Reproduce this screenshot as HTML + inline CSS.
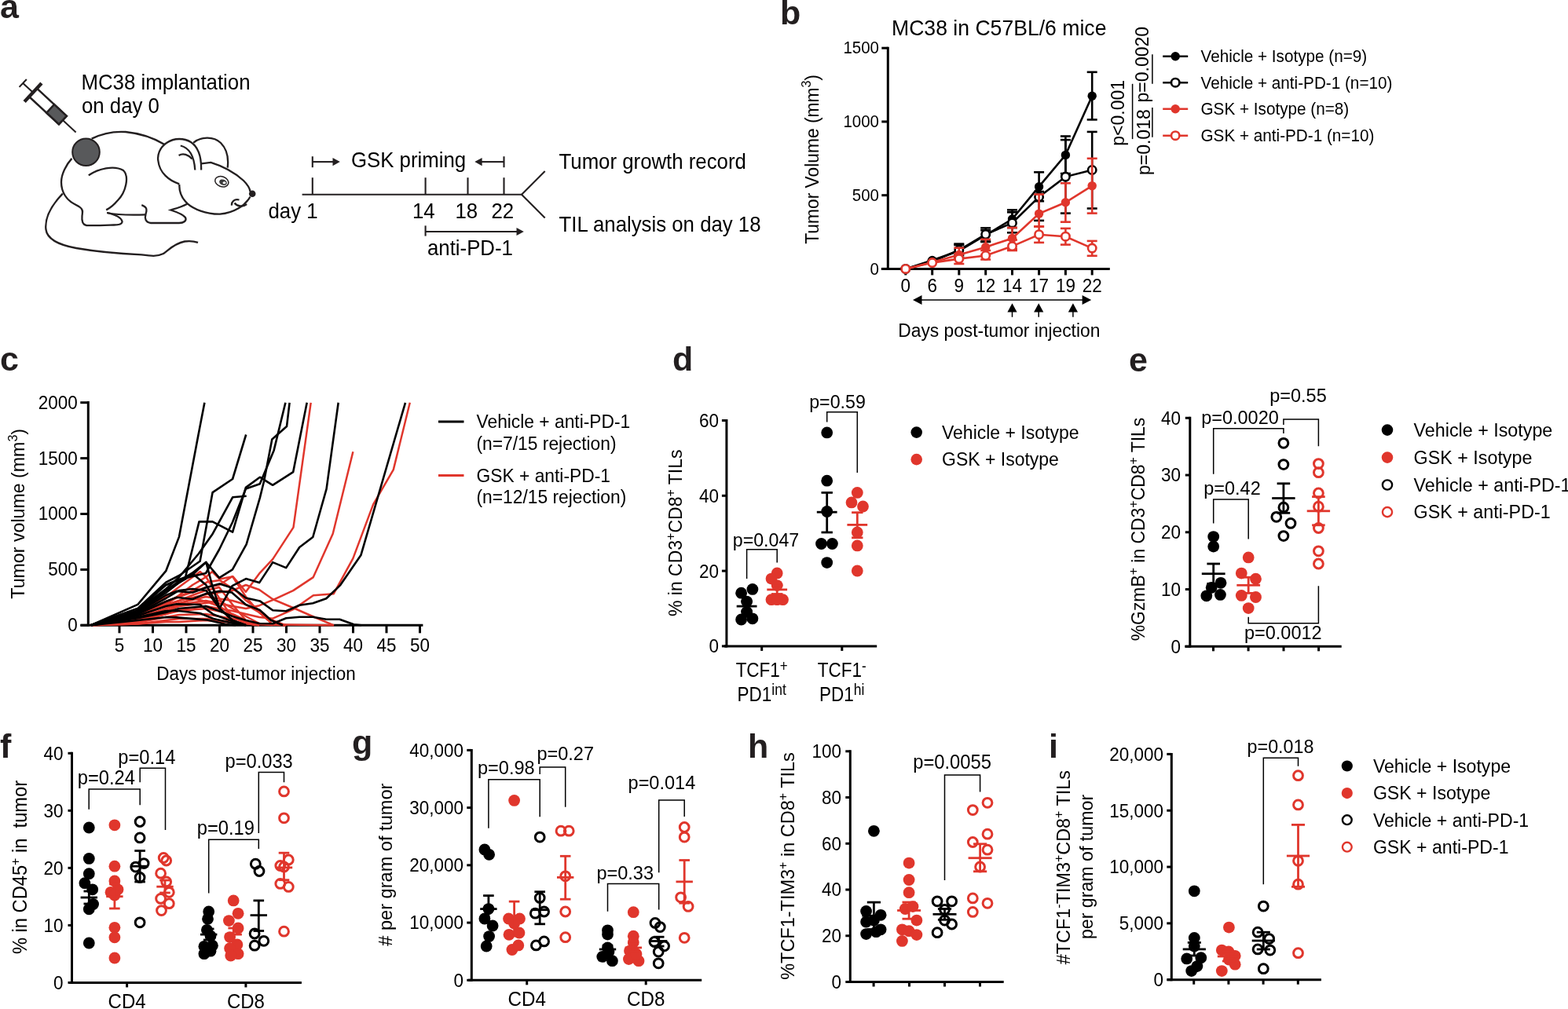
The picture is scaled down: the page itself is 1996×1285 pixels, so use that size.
<!DOCTYPE html>
<html><head><meta charset="utf-8"><title>Figure</title>
<style>
html,body{margin:0;padding:0;background:#fff;overflow:hidden;}
svg{display:block;}
text{font-family:"Liberation Sans", Arial, Helvetica, sans-serif;}
</style></head>
<body>
<svg width="1996" height="1285" viewBox="0 0 1996 1285">
<rect width="1996" height="1285" fill="#fff"/>
<text x="0" y="23.3" font-size="43" text-anchor="start" font-weight="bold" fill="#231f20">a</text>
<text x="993" y="30.8" font-size="43" text-anchor="start" font-weight="bold" fill="#231f20">b</text>
<text x="0" y="471.5" font-size="43" text-anchor="start" font-weight="bold" fill="#231f20">c</text>
<text x="856" y="471.5" font-size="43" text-anchor="start" font-weight="bold" fill="#231f20">d</text>
<text x="1437" y="472.5" font-size="43" text-anchor="start" font-weight="bold" fill="#231f20">e</text>
<text x="0" y="964.5" font-size="43" text-anchor="start" font-weight="bold" fill="#231f20">f</text>
<text x="448" y="959.5" font-size="43" text-anchor="start" font-weight="bold" fill="#231f20">g</text>
<text x="952" y="965.4" font-size="43" text-anchor="start" font-weight="bold" fill="#231f20">h</text>
<text x="1335" y="964.5" font-size="43" text-anchor="start" font-weight="bold" fill="#231f20">i</text>
<g transform="translate(29.2,105.9) rotate(42.9)" stroke="#231f20" fill="none">
<line x1="0" y1="-6.8" x2="0" y2="6.8" stroke-width="2.1"/>
<line x1="0" y1="0" x2="17.5" y2="0" stroke-width="2.1"/>
<rect x="17.5" y="-7.2" width="51.7" height="14.4" fill="#fff" stroke-width="2.5"/>
<rect x="47.7" y="-7.2" width="21.5" height="14.4" fill="#58595b" stroke-width="2.5"/>
<line x1="17.5" y1="-16" x2="17.5" y2="16" stroke-width="4.4"/>
<line x1="69.2" y1="0" x2="92" y2="0" stroke-width="2.0"/>
</g>
<path d="M116.7,176.6 C130,170 145,167 160,168 C180,170 198,177 209.9,184.3" fill="none" stroke="#231f20" stroke-width="2.3"/>
<path d="M256.1,216.5 C256.5,200 252,187 243,181 C235,176 222,175 212,182 C203,188 200,198 201.4,205 C203,220 215,230 228.3,234.3" fill="none" stroke="#231f20" stroke-width="2.3"/>
<path d="M229.8,185.5 C240,188 247,196 248.3,216.5" fill="none" stroke="#231f20" stroke-width="2.3"/>
<path d="M227.6,198 C233,194.5 240,197 244.6,202.5" fill="none" stroke="#231f20" stroke-width="2.3"/>
<path d="M246.1,181.8 C255,174 272,173 281,182 C290,191 291,203 289.7,213.6" fill="none" stroke="#231f20" stroke-width="2.3"/>
<path d="M256.4,208.4 L268.3,206.9 C285,212 300,221 310,230 C315,235 318,240 318.5,244" fill="none" stroke="#231f20" stroke-width="2.3"/>
<path d="M318.5,250.5 C312,262 298,271 280,272.7 C262,273 246,266 238.7,259.4 C231,252 228,244 228.3,235" fill="none" stroke="#231f20" stroke-width="2.3"/>
<path d="M304.5,254.5 C298,253 294.5,257 295,261.6" fill="none" stroke="#231f20" stroke-width="2.3"/>
<path d="M298.5,258.5 C302,263 309,264 314.1,260" fill="none" stroke="#231f20" stroke-width="2.3"/>
<path d="M238.7,259.4 C230,264 222,266 217.3,267.5 C225,270 233,273 236,277 C238,281 234,284 228,284 C215,284 200,284 192,284 C185,283 184,278 185.5,272.7 C187,268 188,264 180.3,261.2" fill="none" stroke="#231f20" stroke-width="2.3"/>
<path d="M136.2,271 C150,274 170,274 185.5,273.4" fill="none" stroke="#231f20" stroke-width="2.3"/>
<path d="M112.8,223.3 C125,215 145,210 157,217 C165,225 160,245 150,255 C145,261 140,265 135.2,267.4" fill="none" stroke="#231f20" stroke-width="2.3"/>
<path d="M136.2,270.9 C145,273 155,277 155.6,282.6 C155,286 150,286.5 145,286.5 C130,287 118,287.5 110,287 C104,286 104,280 104.5,275 C105,270 106,268 103,265" fill="none" stroke="#231f20" stroke-width="2.3"/>
<path d="M91.4,201.9 C84,210 78,222 78,232 C78,245 85,255 95,260 C99,262 102,264 103.1,265.1" fill="none" stroke="#231f20" stroke-width="2.3"/>
<path d="M79.8,246.6 C65,262 57,278 58.4,292 C60,305 75,312 97,316 C120,320 150,323 180,324.4 C192,326 200,327 208,323 C215,318 222,310 235,307.5 C242,306.5 248,307.5 252,308.9" fill="none" stroke="#231f20" stroke-width="2.3"/>
<circle cx="109.5" cy="193.7" r="17.3" fill="#58595b" stroke="#231f20" stroke-width="2"/>
<circle cx="321.2" cy="246.8" r="4.3" fill="#231f20"/>
<ellipse cx="282.3" cy="231.3" rx="8.8" ry="6.4" transform="rotate(20 282.3 231.3)" fill="#fff" stroke="#231f20" stroke-width="1.5"/>
<ellipse cx="284" cy="232.2" rx="5" ry="3.6" transform="rotate(20 284 232.2)" fill="#3a3a3a"/>
<ellipse cx="285.5" cy="232.8" rx="2" ry="1.5" fill="#fff"/>
<line x1="384.6" y1="247.7" x2="664" y2="247.7" stroke="#231f20" stroke-width="2.1" stroke-linecap="butt"/>
<line x1="397.8" y1="226.2" x2="397.8" y2="247.7" stroke="#231f20" stroke-width="2.1" stroke-linecap="butt"/>
<line x1="541.6" y1="226.2" x2="541.6" y2="247.7" stroke="#231f20" stroke-width="2.1" stroke-linecap="butt"/>
<line x1="595.5" y1="226.2" x2="595.5" y2="247.7" stroke="#231f20" stroke-width="2.1" stroke-linecap="butt"/>
<line x1="641.5" y1="226.2" x2="641.5" y2="247.7" stroke="#231f20" stroke-width="2.1" stroke-linecap="butt"/>
<line x1="664" y1="247.7" x2="693.7" y2="218" stroke="#231f20" stroke-width="2.1" stroke-linecap="butt"/>
<line x1="664" y1="247.7" x2="693.7" y2="277.5" stroke="#231f20" stroke-width="2.1" stroke-linecap="butt"/>
<line x1="397.8" y1="199.2" x2="397.8" y2="213.2" stroke="#231f20" stroke-width="2.1" stroke-linecap="butt"/>
<line x1="397.8" y1="206.1" x2="425" y2="206.1" stroke="#231f20" stroke-width="2.1" stroke-linecap="butt"/>
<polygon points="432.8,206.1 423.5,201 423.5,211.2" fill="#231f20"/>
<line x1="641.5" y1="199.2" x2="641.5" y2="213.2" stroke="#231f20" stroke-width="2.1" stroke-linecap="butt"/>
<line x1="641.5" y1="206.1" x2="612" y2="206.1" stroke="#231f20" stroke-width="2.1" stroke-linecap="butt"/>
<polygon points="604.3,206.1 613.6,201 613.6,211.2" fill="#231f20"/>
<line x1="541.6" y1="287.4" x2="541.6" y2="300.6" stroke="#231f20" stroke-width="2.1" stroke-linecap="butt"/>
<line x1="541.6" y1="295" x2="659" y2="295" stroke="#231f20" stroke-width="2.1" stroke-linecap="butt"/>
<polygon points="666.8,295 657.5,289.9 657.5,300.1" fill="#231f20"/>
<text transform="translate(447 213) scale(1 1.05)" font-size="25.8" text-anchor="start" fill="#000">GSK priming</text>
<text transform="translate(711.5 214.6) scale(1 1.05)" font-size="25.8" text-anchor="start" fill="#000">Tumor growth record</text>
<text transform="translate(711.5 295) scale(1 1.05)" font-size="25.8" text-anchor="start" fill="#000">TIL analysis on day 18</text>
<text transform="translate(341.5 277.5) scale(1 1.05)" font-size="25.8" text-anchor="start" fill="#000">day 1</text>
<text transform="translate(525 277.5) scale(1 1.05)" font-size="25.8" text-anchor="start" fill="#000">14</text>
<text transform="translate(579.5 277.5) scale(1 1.05)" font-size="25.8" text-anchor="start" fill="#000">18</text>
<text transform="translate(625.5 277.5) scale(1 1.05)" font-size="25.8" text-anchor="start" fill="#000">22</text>
<text transform="translate(544 325.4) scale(1 1.05)" font-size="25.8" text-anchor="start" fill="#000">anti-PD-1</text>
<text transform="translate(103.5 113.8) scale(1 1.05)" font-size="25.8" text-anchor="start" fill="#000">MC38 implantation</text>
<text transform="translate(104 144.2) scale(1 1.05)" font-size="25.8" text-anchor="start" fill="#000">on day 0</text>
<text transform="translate(1135 44.5) scale(1 1.05)" font-size="26.6" text-anchor="start" fill="#000">MC38 in C57BL/6 mice</text>
<line x1="1130.3" y1="59.7" x2="1130.3" y2="343.9" stroke="#000" stroke-width="3" stroke-linecap="butt"/>
<line x1="1122.3" y1="61.19999999999999" x2="1130.3" y2="61.19999999999999" stroke="#000" stroke-width="3" stroke-linecap="butt"/>
<text transform="translate(1119 68.47749999999999) scale(1 1.05)" font-size="20.5" text-anchor="end" fill="#000">1500</text>
<line x1="1122.3" y1="154.9333333333333" x2="1130.3" y2="154.9333333333333" stroke="#000" stroke-width="3" stroke-linecap="butt"/>
<text transform="translate(1119 162.2108333333333) scale(1 1.05)" font-size="20.5" text-anchor="end" fill="#000">1000</text>
<line x1="1122.3" y1="248.66666666666663" x2="1130.3" y2="248.66666666666663" stroke="#000" stroke-width="3" stroke-linecap="butt"/>
<text transform="translate(1119 255.94416666666663) scale(1 1.05)" font-size="20.5" text-anchor="end" fill="#000">500</text>
<line x1="1122.3" y1="342.4" x2="1130.3" y2="342.4" stroke="#000" stroke-width="3" stroke-linecap="butt"/>
<text transform="translate(1119 349.67749999999995) scale(1 1.05)" font-size="20.5" text-anchor="end" fill="#000">0</text>
<line x1="1121.8" y1="342.4" x2="1412.8" y2="342.4" stroke="#000" stroke-width="3" stroke-linecap="butt"/>
<line x1="1152.8" y1="342.4" x2="1152.8" y2="350.4" stroke="#000" stroke-width="3" stroke-linecap="butt"/>
<line x1="1186.7" y1="342.4" x2="1186.7" y2="350.4" stroke="#000" stroke-width="3" stroke-linecap="butt"/>
<line x1="1220.8" y1="342.4" x2="1220.8" y2="350.4" stroke="#000" stroke-width="3" stroke-linecap="butt"/>
<line x1="1254.7" y1="342.4" x2="1254.7" y2="350.4" stroke="#000" stroke-width="3" stroke-linecap="butt"/>
<line x1="1288.5" y1="342.4" x2="1288.5" y2="350.4" stroke="#000" stroke-width="3" stroke-linecap="butt"/>
<line x1="1322.6" y1="342.4" x2="1322.6" y2="350.4" stroke="#000" stroke-width="3" stroke-linecap="butt"/>
<line x1="1356.4" y1="342.4" x2="1356.4" y2="350.4" stroke="#000" stroke-width="3" stroke-linecap="butt"/>
<line x1="1390.2" y1="342.4" x2="1390.2" y2="350.4" stroke="#000" stroke-width="3" stroke-linecap="butt"/>
<text transform="translate(1152.8 372.2) scale(1 1.05)" font-size="22.5" text-anchor="middle" fill="#000">0</text>
<text transform="translate(1186.7 372.2) scale(1 1.05)" font-size="22.5" text-anchor="middle" fill="#000">6</text>
<text transform="translate(1220.8 372.2) scale(1 1.05)" font-size="22.5" text-anchor="middle" fill="#000">9</text>
<text transform="translate(1254.7 372.2) scale(1 1.05)" font-size="22.5" text-anchor="middle" fill="#000">12</text>
<text transform="translate(1288.5 372.2) scale(1 1.05)" font-size="22.5" text-anchor="middle" fill="#000">14</text>
<text transform="translate(1322.6 372.2) scale(1 1.05)" font-size="22.5" text-anchor="middle" fill="#000">17</text>
<text transform="translate(1356.4 372.2) scale(1 1.05)" font-size="22.5" text-anchor="middle" fill="#000">19</text>
<text transform="translate(1390.2 372.2) scale(1 1.05)" font-size="22.5" text-anchor="middle" fill="#000">22</text>
<line x1="1170" y1="382.1" x2="1380" y2="382.1" stroke="#000" stroke-width="1.5" stroke-linecap="butt"/>
<polygon points="1162,382.1 1173.5,376.1 1173.5,388.1" fill="#000"/>
<polygon points="1389.2,382.1 1377.6,376.1 1377.6,388.1" fill="#000"/>
<line x1="1288.5" y1="396" x2="1288.5" y2="403.8" stroke="#000" stroke-width="1.5" stroke-linecap="butt"/>
<polygon points="1288.5,386.3 1282.4,397.5 1294.6,397.5" fill="#000"/>
<line x1="1322.2" y1="396" x2="1322.2" y2="403.8" stroke="#000" stroke-width="1.5" stroke-linecap="butt"/>
<polygon points="1322.2,386.3 1316.1000000000001,397.5 1328.3,397.5" fill="#000"/>
<line x1="1365.9" y1="396" x2="1365.9" y2="403.8" stroke="#000" stroke-width="1.5" stroke-linecap="butt"/>
<polygon points="1365.9,386.3 1359.8000000000002,397.5 1372.0,397.5" fill="#000"/>
<text transform="translate(1271.8 429) scale(1 1.05)" font-size="22.8" text-anchor="middle" fill="#000">Days post-tumor injection</text>
<text transform="translate(1041.5 202.9) rotate(-90) scale(1 1.05)" font-size="22.8" text-anchor="middle" fill="#000">Tumor Volume (mm<tspan font-size="16" dy="-9">3</tspan><tspan dy="9">)</tspan></text>
<line x1="1220.8" y1="310.6" x2="1220.8" y2="328" stroke="#000" stroke-width="2.6" stroke-linecap="butt"/>
<line x1="1214.3" y1="310.6" x2="1227.3" y2="310.6" stroke="#000" stroke-width="2.6" stroke-linecap="butt"/>
<line x1="1214.3" y1="328" x2="1227.3" y2="328" stroke="#000" stroke-width="2.6" stroke-linecap="butt"/>
<line x1="1254.7" y1="290.4" x2="1254.7" y2="308" stroke="#000" stroke-width="2.6" stroke-linecap="butt"/>
<line x1="1248.2" y1="290.4" x2="1261.2" y2="290.4" stroke="#000" stroke-width="2.6" stroke-linecap="butt"/>
<line x1="1248.2" y1="308" x2="1261.2" y2="308" stroke="#000" stroke-width="2.6" stroke-linecap="butt"/>
<line x1="1288.5" y1="267.4" x2="1288.5" y2="290" stroke="#000" stroke-width="2.6" stroke-linecap="butt"/>
<line x1="1282.0" y1="267.4" x2="1295.0" y2="267.4" stroke="#000" stroke-width="2.6" stroke-linecap="butt"/>
<line x1="1282.0" y1="290" x2="1295.0" y2="290" stroke="#000" stroke-width="2.6" stroke-linecap="butt"/>
<line x1="1322.6" y1="219.3" x2="1322.6" y2="256.2" stroke="#000" stroke-width="2.6" stroke-linecap="butt"/>
<line x1="1316.1" y1="219.3" x2="1329.1" y2="219.3" stroke="#000" stroke-width="2.6" stroke-linecap="butt"/>
<line x1="1316.1" y1="256.2" x2="1329.1" y2="256.2" stroke="#000" stroke-width="2.6" stroke-linecap="butt"/>
<line x1="1356.4" y1="173.5" x2="1356.4" y2="221" stroke="#000" stroke-width="2.6" stroke-linecap="butt"/>
<line x1="1349.9" y1="173.5" x2="1362.9" y2="173.5" stroke="#000" stroke-width="2.6" stroke-linecap="butt"/>
<line x1="1349.9" y1="221" x2="1362.9" y2="221" stroke="#000" stroke-width="2.6" stroke-linecap="butt"/>
<line x1="1390.2" y1="91.8" x2="1390.2" y2="152.4" stroke="#000" stroke-width="2.6" stroke-linecap="butt"/>
<line x1="1383.7" y1="91.8" x2="1396.7" y2="91.8" stroke="#000" stroke-width="2.6" stroke-linecap="butt"/>
<line x1="1383.7" y1="152.4" x2="1396.7" y2="152.4" stroke="#000" stroke-width="2.6" stroke-linecap="butt"/>
<polyline points="1152.8,342.4 1186.7,331.5 1220.8,319.5 1254.7,299.5 1288.5,279.0 1322.6,237.7 1356.4,197.4 1390.2,122.2" fill="none" stroke="#000" stroke-width="2.6" stroke-linejoin="miter"/>
<circle cx="1152.8" cy="342.4" r="5.7" fill="#000"/>
<circle cx="1186.7" cy="331.5" r="5.7" fill="#000"/>
<circle cx="1220.8" cy="319.5" r="5.7" fill="#000"/>
<circle cx="1254.7" cy="299.5" r="5.7" fill="#000"/>
<circle cx="1288.5" cy="279.0" r="5.7" fill="#000"/>
<circle cx="1322.6" cy="237.7" r="5.7" fill="#000"/>
<circle cx="1356.4" cy="197.4" r="5.7" fill="#000"/>
<circle cx="1390.2" cy="122.2" r="5.7" fill="#000"/>
<line x1="1220.8" y1="312" x2="1220.8" y2="325" stroke="#000" stroke-width="2.6" stroke-linecap="butt"/>
<line x1="1214.3" y1="312" x2="1227.3" y2="312" stroke="#000" stroke-width="2.6" stroke-linecap="butt"/>
<line x1="1214.3" y1="325" x2="1227.3" y2="325" stroke="#000" stroke-width="2.6" stroke-linecap="butt"/>
<line x1="1254.7" y1="293.3" x2="1254.7" y2="307.5" stroke="#000" stroke-width="2.6" stroke-linecap="butt"/>
<line x1="1248.2" y1="293.3" x2="1261.2" y2="293.3" stroke="#000" stroke-width="2.6" stroke-linecap="butt"/>
<line x1="1248.2" y1="307.5" x2="1261.2" y2="307.5" stroke="#000" stroke-width="2.6" stroke-linecap="butt"/>
<line x1="1288.5" y1="270.3" x2="1288.5" y2="296.3" stroke="#000" stroke-width="2.6" stroke-linecap="butt"/>
<line x1="1282.0" y1="270.3" x2="1295.0" y2="270.3" stroke="#000" stroke-width="2.6" stroke-linecap="butt"/>
<line x1="1282.0" y1="296.3" x2="1295.0" y2="296.3" stroke="#000" stroke-width="2.6" stroke-linecap="butt"/>
<line x1="1322.6" y1="244" x2="1322.6" y2="280.9" stroke="#000" stroke-width="2.6" stroke-linecap="butt"/>
<line x1="1316.1" y1="244" x2="1329.1" y2="244" stroke="#000" stroke-width="2.6" stroke-linecap="butt"/>
<line x1="1316.1" y1="280.9" x2="1329.1" y2="280.9" stroke="#000" stroke-width="2.6" stroke-linecap="butt"/>
<line x1="1356.4" y1="178.1" x2="1356.4" y2="271.6" stroke="#000" stroke-width="2.6" stroke-linecap="butt"/>
<line x1="1349.9" y1="178.1" x2="1362.9" y2="178.1" stroke="#000" stroke-width="2.6" stroke-linecap="butt"/>
<line x1="1349.9" y1="271.6" x2="1362.9" y2="271.6" stroke="#000" stroke-width="2.6" stroke-linecap="butt"/>
<line x1="1390.2" y1="167.9" x2="1390.2" y2="265.5" stroke="#000" stroke-width="2.6" stroke-linecap="butt"/>
<line x1="1383.7" y1="167.9" x2="1396.7" y2="167.9" stroke="#000" stroke-width="2.6" stroke-linecap="butt"/>
<line x1="1383.7" y1="265.5" x2="1396.7" y2="265.5" stroke="#000" stroke-width="2.6" stroke-linecap="butt"/>
<polyline points="1152.8,342.4 1186.7,333.0 1220.8,318.5 1254.7,298.5 1288.5,283.9 1322.6,250.8 1356.4,225.1 1390.2,216.5" fill="none" stroke="#000" stroke-width="2.6" stroke-linejoin="miter"/>
<circle cx="1152.8" cy="342.4" r="5.2" fill="#fff" stroke="#000" stroke-width="2.6"/>
<circle cx="1186.7" cy="333.0" r="5.2" fill="#fff" stroke="#000" stroke-width="2.6"/>
<circle cx="1220.8" cy="318.5" r="5.2" fill="#fff" stroke="#000" stroke-width="2.6"/>
<circle cx="1254.7" cy="298.5" r="5.2" fill="#fff" stroke="#000" stroke-width="2.6"/>
<circle cx="1288.5" cy="283.9" r="5.2" fill="#fff" stroke="#000" stroke-width="2.6"/>
<circle cx="1322.6" cy="250.8" r="5.2" fill="#fff" stroke="#000" stroke-width="2.6"/>
<circle cx="1356.4" cy="225.1" r="5.2" fill="#fff" stroke="#000" stroke-width="2.6"/>
<circle cx="1390.2" cy="216.5" r="5.2" fill="#fff" stroke="#000" stroke-width="2.6"/>
<line x1="1220.8" y1="315.7" x2="1220.8" y2="329" stroke="#e0362c" stroke-width="2.6" stroke-linecap="butt"/>
<line x1="1214.3" y1="315.7" x2="1227.3" y2="315.7" stroke="#e0362c" stroke-width="2.6" stroke-linecap="butt"/>
<line x1="1214.3" y1="329" x2="1227.3" y2="329" stroke="#e0362c" stroke-width="2.6" stroke-linecap="butt"/>
<line x1="1254.7" y1="304.8" x2="1254.7" y2="324.6" stroke="#e0362c" stroke-width="2.6" stroke-linecap="butt"/>
<line x1="1248.2" y1="304.8" x2="1261.2" y2="304.8" stroke="#e0362c" stroke-width="2.6" stroke-linecap="butt"/>
<line x1="1248.2" y1="324.6" x2="1261.2" y2="324.6" stroke="#e0362c" stroke-width="2.6" stroke-linecap="butt"/>
<line x1="1288.5" y1="290" x2="1288.5" y2="317" stroke="#e0362c" stroke-width="2.6" stroke-linecap="butt"/>
<line x1="1282.0" y1="290" x2="1295.0" y2="290" stroke="#e0362c" stroke-width="2.6" stroke-linecap="butt"/>
<line x1="1282.0" y1="317" x2="1295.0" y2="317" stroke="#e0362c" stroke-width="2.6" stroke-linecap="butt"/>
<line x1="1322.6" y1="247.5" x2="1322.6" y2="288.4" stroke="#e0362c" stroke-width="2.6" stroke-linecap="butt"/>
<line x1="1316.1" y1="247.5" x2="1329.1" y2="247.5" stroke="#e0362c" stroke-width="2.6" stroke-linecap="butt"/>
<line x1="1316.1" y1="288.4" x2="1329.1" y2="288.4" stroke="#e0362c" stroke-width="2.6" stroke-linecap="butt"/>
<line x1="1356.4" y1="233.3" x2="1356.4" y2="282.7" stroke="#e0362c" stroke-width="2.6" stroke-linecap="butt"/>
<line x1="1349.9" y1="233.3" x2="1362.9" y2="233.3" stroke="#e0362c" stroke-width="2.6" stroke-linecap="butt"/>
<line x1="1349.9" y1="282.7" x2="1362.9" y2="282.7" stroke="#e0362c" stroke-width="2.6" stroke-linecap="butt"/>
<line x1="1390.2" y1="201.8" x2="1390.2" y2="271.6" stroke="#e0362c" stroke-width="2.6" stroke-linecap="butt"/>
<line x1="1383.7" y1="201.8" x2="1396.7" y2="201.8" stroke="#e0362c" stroke-width="2.6" stroke-linecap="butt"/>
<line x1="1383.7" y1="271.6" x2="1396.7" y2="271.6" stroke="#e0362c" stroke-width="2.6" stroke-linecap="butt"/>
<polyline points="1152.8,342.4 1186.7,334.0 1220.8,324.5 1254.7,314.7 1288.5,303.5 1322.6,272.1 1356.4,257.8 1390.2,236.6" fill="none" stroke="#e0362c" stroke-width="2.6" stroke-linejoin="miter"/>
<circle cx="1152.8" cy="342.4" r="5.7" fill="#e0362c"/>
<circle cx="1186.7" cy="334.0" r="5.7" fill="#e0362c"/>
<circle cx="1220.8" cy="324.5" r="5.7" fill="#e0362c"/>
<circle cx="1254.7" cy="314.7" r="5.7" fill="#e0362c"/>
<circle cx="1288.5" cy="303.5" r="5.7" fill="#e0362c"/>
<circle cx="1322.6" cy="272.1" r="5.7" fill="#e0362c"/>
<circle cx="1356.4" cy="257.8" r="5.7" fill="#e0362c"/>
<circle cx="1390.2" cy="236.6" r="5.7" fill="#e0362c"/>
<line x1="1220.8" y1="323" x2="1220.8" y2="336" stroke="#e0362c" stroke-width="2.6" stroke-linecap="butt"/>
<line x1="1214.3" y1="323" x2="1227.3" y2="323" stroke="#e0362c" stroke-width="2.6" stroke-linecap="butt"/>
<line x1="1214.3" y1="336" x2="1227.3" y2="336" stroke="#e0362c" stroke-width="2.6" stroke-linecap="butt"/>
<line x1="1254.7" y1="319" x2="1254.7" y2="330.5" stroke="#e0362c" stroke-width="2.6" stroke-linecap="butt"/>
<line x1="1248.2" y1="319" x2="1261.2" y2="319" stroke="#e0362c" stroke-width="2.6" stroke-linecap="butt"/>
<line x1="1248.2" y1="330.5" x2="1261.2" y2="330.5" stroke="#e0362c" stroke-width="2.6" stroke-linecap="butt"/>
<line x1="1288.5" y1="305.5" x2="1288.5" y2="319" stroke="#e0362c" stroke-width="2.6" stroke-linecap="butt"/>
<line x1="1282.0" y1="305.5" x2="1295.0" y2="305.5" stroke="#e0362c" stroke-width="2.6" stroke-linecap="butt"/>
<line x1="1282.0" y1="319" x2="1295.0" y2="319" stroke="#e0362c" stroke-width="2.6" stroke-linecap="butt"/>
<line x1="1322.6" y1="288.6" x2="1322.6" y2="308.9" stroke="#e0362c" stroke-width="2.6" stroke-linecap="butt"/>
<line x1="1316.1" y1="288.6" x2="1329.1" y2="288.6" stroke="#e0362c" stroke-width="2.6" stroke-linecap="butt"/>
<line x1="1316.1" y1="308.9" x2="1329.1" y2="308.9" stroke="#e0362c" stroke-width="2.6" stroke-linecap="butt"/>
<line x1="1356.4" y1="290.9" x2="1356.4" y2="311.6" stroke="#e0362c" stroke-width="2.6" stroke-linecap="butt"/>
<line x1="1349.9" y1="290.9" x2="1362.9" y2="290.9" stroke="#e0362c" stroke-width="2.6" stroke-linecap="butt"/>
<line x1="1349.9" y1="311.6" x2="1362.9" y2="311.6" stroke="#e0362c" stroke-width="2.6" stroke-linecap="butt"/>
<line x1="1390.2" y1="306.9" x2="1390.2" y2="325.8" stroke="#e0362c" stroke-width="2.6" stroke-linecap="butt"/>
<line x1="1383.7" y1="306.9" x2="1396.7" y2="306.9" stroke="#e0362c" stroke-width="2.6" stroke-linecap="butt"/>
<line x1="1383.7" y1="325.8" x2="1396.7" y2="325.8" stroke="#e0362c" stroke-width="2.6" stroke-linecap="butt"/>
<polyline points="1152.8,342.4 1186.7,334.6 1220.8,329.6 1254.7,325.5 1288.5,313.6 1322.6,298.7 1356.4,301.2 1390.2,316.1" fill="none" stroke="#e0362c" stroke-width="2.6" stroke-linejoin="miter"/>
<circle cx="1152.8" cy="342.4" r="5.2" fill="#fff" stroke="#e0362c" stroke-width="2.6"/>
<circle cx="1186.7" cy="334.6" r="5.2" fill="#fff" stroke="#e0362c" stroke-width="2.6"/>
<circle cx="1220.8" cy="329.6" r="5.2" fill="#fff" stroke="#e0362c" stroke-width="2.6"/>
<circle cx="1254.7" cy="325.5" r="5.2" fill="#fff" stroke="#e0362c" stroke-width="2.6"/>
<circle cx="1288.5" cy="313.6" r="5.2" fill="#fff" stroke="#e0362c" stroke-width="2.6"/>
<circle cx="1322.6" cy="298.7" r="5.2" fill="#fff" stroke="#e0362c" stroke-width="2.6"/>
<circle cx="1356.4" cy="301.2" r="5.2" fill="#fff" stroke="#e0362c" stroke-width="2.6"/>
<circle cx="1390.2" cy="316.1" r="5.2" fill="#fff" stroke="#e0362c" stroke-width="2.6"/>
<line x1="1480.2" y1="71.7" x2="1512.2" y2="71.7" stroke="#000" stroke-width="2.6" stroke-linecap="butt"/>
<circle cx="1496.2" cy="71.7" r="5.7" fill="#000"/>
<text transform="translate(1528.5 79.10000000000001) scale(1 1.05)" font-size="20.7" text-anchor="start" fill="#000">Vehicle + Isotype (n=9)</text>
<line x1="1480.2" y1="105.2" x2="1512.2" y2="105.2" stroke="#000" stroke-width="2.6" stroke-linecap="butt"/>
<circle cx="1496.2" cy="105.2" r="5.2" fill="#fff" stroke="#000" stroke-width="2.6"/>
<text transform="translate(1528.5 112.60000000000001) scale(1 1.05)" font-size="20.7" text-anchor="start" fill="#000">Vehicle + anti-PD-1 (n=10)</text>
<line x1="1480.2" y1="138.8" x2="1512.2" y2="138.8" stroke="#e0362c" stroke-width="2.6" stroke-linecap="butt"/>
<circle cx="1496.2" cy="138.8" r="5.7" fill="#e0362c"/>
<text transform="translate(1528.5 146.20000000000002) scale(1 1.05)" font-size="20.7" text-anchor="start" fill="#000">GSK + Isotype (n=8)</text>
<line x1="1480.2" y1="172.7" x2="1512.2" y2="172.7" stroke="#e0362c" stroke-width="2.6" stroke-linecap="butt"/>
<circle cx="1496.2" cy="172.7" r="5.2" fill="#fff" stroke="#e0362c" stroke-width="2.6"/>
<text transform="translate(1528.5 180.1) scale(1 1.05)" font-size="20.7" text-anchor="start" fill="#000">GSK + anti-PD-1 (n=10)</text>
<text transform="translate(1431.3 143.8) rotate(-90) scale(1 1.05)" font-size="23" text-anchor="middle" fill="#000">p&lt;0.001</text>
<text transform="translate(1463.5 181.2) rotate(-90) scale(1 1.05)" font-size="23" text-anchor="middle" fill="#000">p=0.018</text>
<text transform="translate(1462.3 82.2) rotate(-90) scale(1 1.05)" font-size="23" text-anchor="middle" fill="#000">p=0.0020</text>
<line x1="1441.6" y1="106.8" x2="1441.6" y2="177.1" stroke="#000" stroke-width="1.5" stroke-linecap="butt"/>
<line x1="1466.9" y1="137" x2="1466.9" y2="174.7" stroke="#000" stroke-width="1.5" stroke-linecap="butt"/>
<line x1="1466.9" y1="69.2" x2="1466.9" y2="106.8" stroke="#000" stroke-width="1.5" stroke-linecap="butt"/>
<line x1="112.3" y1="511.1" x2="112.3" y2="797.8" stroke="#000" stroke-width="3" stroke-linecap="butt"/>
<line x1="102.3" y1="512.6999999999999" x2="112.3" y2="512.6999999999999" stroke="#000" stroke-width="3" stroke-linecap="butt"/>
<text transform="translate(98.8 520.6874999999999) scale(1 1.05)" font-size="22.5" text-anchor="end" fill="#000">2000</text>
<line x1="102.3" y1="583.5999999999999" x2="112.3" y2="583.5999999999999" stroke="#000" stroke-width="3" stroke-linecap="butt"/>
<text transform="translate(98.8 591.5874999999999) scale(1 1.05)" font-size="22.5" text-anchor="end" fill="#000">1500</text>
<line x1="102.3" y1="654.5" x2="112.3" y2="654.5" stroke="#000" stroke-width="3" stroke-linecap="butt"/>
<text transform="translate(98.8 662.4875) scale(1 1.05)" font-size="22.5" text-anchor="end" fill="#000">1000</text>
<line x1="102.3" y1="725.4" x2="112.3" y2="725.4" stroke="#000" stroke-width="3" stroke-linecap="butt"/>
<text transform="translate(98.8 733.3874999999999) scale(1 1.05)" font-size="22.5" text-anchor="end" fill="#000">500</text>
<line x1="102.3" y1="796.3" x2="112.3" y2="796.3" stroke="#000" stroke-width="3" stroke-linecap="butt"/>
<text transform="translate(98.8 804.2874999999999) scale(1 1.05)" font-size="22.5" text-anchor="end" fill="#000">0</text>
<line x1="102.7" y1="796.3" x2="538.4" y2="796.3" stroke="#000" stroke-width="3" stroke-linecap="butt"/>
<line x1="152.0" y1="796.3" x2="152.0" y2="806.3" stroke="#000" stroke-width="3" stroke-linecap="butt"/>
<line x1="194.5" y1="796.3" x2="194.5" y2="806.3" stroke="#000" stroke-width="3" stroke-linecap="butt"/>
<line x1="237.0" y1="796.3" x2="237.0" y2="806.3" stroke="#000" stroke-width="3" stroke-linecap="butt"/>
<line x1="279.5" y1="796.3" x2="279.5" y2="806.3" stroke="#000" stroke-width="3" stroke-linecap="butt"/>
<line x1="322.0" y1="796.3" x2="322.0" y2="806.3" stroke="#000" stroke-width="3" stroke-linecap="butt"/>
<line x1="364.5" y1="796.3" x2="364.5" y2="806.3" stroke="#000" stroke-width="3" stroke-linecap="butt"/>
<line x1="407.0" y1="796.3" x2="407.0" y2="806.3" stroke="#000" stroke-width="3" stroke-linecap="butt"/>
<line x1="449.5" y1="796.3" x2="449.5" y2="806.3" stroke="#000" stroke-width="3" stroke-linecap="butt"/>
<line x1="492.0" y1="796.3" x2="492.0" y2="806.3" stroke="#000" stroke-width="3" stroke-linecap="butt"/>
<line x1="534.5" y1="796.3" x2="534.5" y2="806.3" stroke="#000" stroke-width="3" stroke-linecap="butt"/>
<text transform="translate(152.0 829.7) scale(1 1.05)" font-size="22.5" text-anchor="middle" fill="#000">5</text>
<text transform="translate(194.5 829.7) scale(1 1.05)" font-size="22.5" text-anchor="middle" fill="#000">10</text>
<text transform="translate(237.0 829.7) scale(1 1.05)" font-size="22.5" text-anchor="middle" fill="#000">15</text>
<text transform="translate(279.5 829.7) scale(1 1.05)" font-size="22.5" text-anchor="middle" fill="#000">20</text>
<text transform="translate(322.0 829.7) scale(1 1.05)" font-size="22.5" text-anchor="middle" fill="#000">25</text>
<text transform="translate(364.5 829.7) scale(1 1.05)" font-size="22.5" text-anchor="middle" fill="#000">30</text>
<text transform="translate(407.0 829.7) scale(1 1.05)" font-size="22.5" text-anchor="middle" fill="#000">35</text>
<text transform="translate(449.5 829.7) scale(1 1.05)" font-size="22.5" text-anchor="middle" fill="#000">40</text>
<text transform="translate(492.0 829.7) scale(1 1.05)" font-size="22.5" text-anchor="middle" fill="#000">45</text>
<text transform="translate(534.5 829.7) scale(1 1.05)" font-size="22.5" text-anchor="middle" fill="#000">50</text>
<text transform="translate(326 866.4) scale(1 1.05)" font-size="22.5" text-anchor="middle" fill="#000">Days post-tumor injection</text>
<text transform="translate(31 654.3) rotate(-90) scale(1 1.05)" font-size="23.2" text-anchor="middle" fill="#000">Tumor volume (mm<tspan font-size="16" dy="-9">3</tspan><tspan dy="9">)</tspan></text>
<g stroke-linejoin="round">
<polyline points="115.8,796.3 175.4,787.1 211.2,770.0 228.0,758.0 245.0,745.0 262.0,735.0 270.1,728.0 279.5,737.4 296.6,734.2 312.9,753.7 330.8,729.6 347.2,712.1 373.5,671.6 395.7,512.8" fill="none" stroke="#e0362c" stroke-width="2.5" stroke-linejoin="round"/>
<polyline points="115.8,796.3 175.4,789.6 211.2,775.0 228.0,770.0 262.0,765.0 296.0,772.0 313.0,775.0 330.1,771.2 347.2,764.2 373.2,752.1 398.8,735.1 423.7,679.8 449.4,575.2" fill="none" stroke="#e0362c" stroke-width="2.5" stroke-linejoin="round"/>
<polyline points="115.8,796.3 175.4,791.2 211.2,782.0 228.0,776.0 262.0,772.0 296.0,778.0 313.0,782.0 330.0,786.0 347.2,787.7 373.2,776.2 398.8,758.2 424.8,756.2 449.4,711.1 475.1,642.4 500.8,598.1 521.8,512.8" fill="none" stroke="#e0362c" stroke-width="2.5" stroke-linejoin="round"/>
<polyline points="115.8,796.3 175.4,780.0 211.2,760.0 225.0,749.8 254.6,728.0 262.4,735.0 279.5,762.3 290.0,778.0 305.0,790.0 325.0,796.3" fill="none" stroke="#e0362c" stroke-width="2.5" stroke-linejoin="round"/>
<polyline points="115.8,796.3 175.4,782.0 211.2,766.0 240.6,754.5 263.9,741.2 279.5,738.9 291.9,746.7 302.8,754.5 312.9,764.6 330.8,777.8 345.0,789.5 360.0,796.3" fill="none" stroke="#e0362c" stroke-width="2.5" stroke-linejoin="round"/>
<polyline points="115.8,796.3 175.4,784.6 211.2,768.0 228.0,760.0 262.0,748.0 279.0,745.0 295.9,734.0 313.0,760.0 330.0,780.0 347.0,795.0 364.0,796.3" fill="none" stroke="#e0362c" stroke-width="2.5" stroke-linejoin="round"/>
<polyline points="115.8,796.3 175.4,783.0 211.2,770.0 228.0,765.0 262.0,757.0 296.0,752.0 313.0,745.0 330.0,751.0 347.0,763.0 373.0,774.0 398.0,785.0 425.0,796.3" fill="none" stroke="#e0362c" stroke-width="2.5" stroke-linejoin="round"/>
<polyline points="115.8,796.3 175.4,787.1 211.2,775.0 228.0,768.0 262.0,760.0 296.0,765.0 313.0,770.0 330.0,780.0 347.0,790.0 364.0,796.3" fill="none" stroke="#e0362c" stroke-width="2.5" stroke-linejoin="round"/>
<polyline points="115.8,796.3 175.4,787.9 211.2,778.0 228.0,772.0 262.0,768.0 279.0,765.0 296.0,775.0 313.0,785.0 330.0,794.0 347.0,796.3" fill="none" stroke="#e0362c" stroke-width="2.5" stroke-linejoin="round"/>
<polyline points="115.8,796.3 175.4,791.2 211.2,782.0 228.0,778.0 262.0,775.0 296.0,782.0 313.0,790.0 330.0,796.3" fill="none" stroke="#e0362c" stroke-width="2.5" stroke-linejoin="round"/>
<polyline points="115.8,796.3 175.4,792.8 211.2,786.0 228.0,783.0 262.0,782.0 296.0,788.0 330.0,795.0 364.0,796.3" fill="none" stroke="#e0362c" stroke-width="2.5" stroke-linejoin="round"/>
<polyline points="115.8,796.3 175.4,794.4 211.2,790.0 228.0,788.0 262.0,788.0 296.0,792.0 330.0,796.3" fill="none" stroke="#e0362c" stroke-width="2.5" stroke-linejoin="round"/>
<polyline points="115.8,796.3 175.4,794.4 211.2,792.0 228.0,792.0 262.0,790.0 296.0,793.0 330.0,795.0 400.0,796.0 425.0,796.3" fill="none" stroke="#e0362c" stroke-width="2.5" stroke-linejoin="round"/>
<polyline points="115.8,796.3 175.4,784.6 211.2,772.0 228.0,765.0 245.0,758.0 262.0,752.0 279.0,748.0 296.0,770.0 313.0,790.0 330.0,796.3" fill="none" stroke="#e0362c" stroke-width="2.5" stroke-linejoin="round"/>
<polyline points="115.8,796.3 175.4,789.6 211.2,780.0 228.0,770.0 245.0,762.0 262.0,766.0 279.0,772.0 296.0,783.0 313.0,796.3" fill="none" stroke="#e0362c" stroke-width="2.5" stroke-linejoin="round"/>
<polyline points="115.8,796.3 175.4,769.9 211.2,727.2 228.0,683.6 252.5,553.7 260.4,512.8" fill="none" stroke="#000" stroke-width="2.6" stroke-linejoin="round"/>
<polyline points="115.8,796.3 175.4,774.9 211.2,741.6 228.0,733.0 254.6,714.8 270.6,627.1 296.1,610.0 313.2,553.5" fill="none" stroke="#000" stroke-width="2.6" stroke-linejoin="round"/>
<polyline points="115.8,796.3 175.4,776.5 211.2,745.0 236.0,735.0 253.5,664.4 270.6,664.4 296.1,677.7 312.9,620.9 330.8,607.7 347.1,617.8 373.2,601.1 390.7,512.8" fill="none" stroke="#000" stroke-width="2.6" stroke-linejoin="round"/>
<polyline points="115.8,796.3 175.4,776.5 211.2,750.0 228.0,735.0 253.0,705.0 270.1,680.8 296.1,633.3 313.7,631.8" fill="none" stroke="#000" stroke-width="2.6" stroke-linejoin="round"/>
<polyline points="115.8,796.3 175.4,779.0 211.2,752.0 228.0,740.0 244.8,729.7 262.3,716.0 279.1,735.9 295.9,725.3 313.7,693.2 330.8,634.1 336.2,612.3 346.3,559.4 365.0,543.1 368.6,512.8" fill="none" stroke="#000" stroke-width="2.6" stroke-linejoin="round"/>
<polyline points="115.8,796.3 175.4,774.9 211.2,745.0 228.0,738.0 262.0,730.0 279.0,700.0 296.0,665.0 312.9,622.4 330.8,616.2 348.7,573.4 363.4,512.8" fill="none" stroke="#000" stroke-width="2.6" stroke-linejoin="round"/>
<polyline points="115.8,796.3 175.4,781.4 211.2,762.0 228.0,752.0 245.0,750.0 262.3,752.0 270.0,762.0 279.5,774.7 295.6,746.1 313.1,737.1 330.1,742.1 347.2,716.1 364.2,723.1 381.2,697.0 398.3,684.0 415.6,622.6 430.7,512.8" fill="none" stroke="#000" stroke-width="2.6" stroke-linejoin="round"/>
<polyline points="115.8,796.3 175.4,780.0 211.2,758.0 225.0,752.9 245.2,754.5 262.4,748.2 279.5,743.6 296.6,749.0 312.9,761.5 330.8,765.4 347.2,777.2 364.2,778.2 381.2,770.7 398.3,768.2 415.3,762.2 433.3,745.1 459.4,707.1 516.0,512.8" fill="none" stroke="#000" stroke-width="2.6" stroke-linejoin="round"/>
<polyline points="115.8,796.3 175.4,787.1 211.2,780.0 228.0,775.0 262.0,772.0 279.0,778.0 296.0,785.0 313.0,790.0 330.0,794.0 347.2,794.2 364.2,787.2 381.2,785.7 398.3,785.7 415.3,788.7 432.3,788.7 450.4,795.2 460.0,796.3" fill="none" stroke="#000" stroke-width="2.6" stroke-linejoin="round"/>
<polyline points="115.8,796.3 175.4,779.0 211.2,755.0 228.0,742.0 245.0,732.0 262.3,716.0 270.0,745.0 279.5,775.0 296.0,790.0 313.0,796.3" fill="none" stroke="#000" stroke-width="2.6" stroke-linejoin="round"/>
<polyline points="115.8,796.3 175.4,782.0 211.2,766.0 225.0,760.7 245.2,763.0 262.4,756.0 279.5,752.9 295.0,754.5 312.9,770.0 330.8,777.0 345.0,790.0 360.0,796.3" fill="none" stroke="#000" stroke-width="2.6" stroke-linejoin="round"/>
<polyline points="115.8,796.3 175.4,784.0 211.2,772.0 225.0,769.3 254.6,770.0 271.7,782.5 295.0,791.0 313.0,796.3" fill="none" stroke="#000" stroke-width="2.6" stroke-linejoin="round"/>
<polyline points="115.8,796.3 175.4,786.0 211.2,778.0 225.0,777.8 254.6,781.0 271.7,788.0 295.0,793.4 313.0,796.3" fill="none" stroke="#000" stroke-width="2.6" stroke-linejoin="round"/>
<polyline points="115.8,796.3 175.4,780.0 211.2,752.0 235.9,737.4 245.2,730.4 262.4,745.1 279.5,774.7 296.0,790.0 313.0,796.3" fill="none" stroke="#000" stroke-width="2.6" stroke-linejoin="round"/>
<polyline points="115.8,796.3 175.4,790.0 211.2,786.0 225.0,786.4 263.9,789.5 287.3,795.0 300.0,796.3" fill="none" stroke="#000" stroke-width="2.6" stroke-linejoin="round"/>
</g>
<line x1="558" y1="536.9" x2="590.5" y2="536.9" stroke="#000" stroke-width="3" stroke-linecap="butt"/>
<line x1="558" y1="605.5" x2="590.5" y2="605.5" stroke="#e0362c" stroke-width="3" stroke-linecap="butt"/>
<text transform="translate(606.5 544.9) scale(1 1.07)" font-size="22.8" text-anchor="start" fill="#000">Vehicle + anti-PD-1</text>
<text transform="translate(606.5 573) scale(1 1.07)" font-size="22.8" text-anchor="start" fill="#000">(n=7/15 rejection)</text>
<text transform="translate(606.5 613.5) scale(1 1.07)" font-size="22.8" text-anchor="start" fill="#000">GSK + anti-PD-1</text>
<text transform="translate(606.5 641.4) scale(1 1.07)" font-size="22.8" text-anchor="start" fill="#000">(n=12/15 rejection)</text>
<line x1="924.9" y1="534.0" x2="924.9" y2="824.4" stroke="#000" stroke-width="3" stroke-linecap="butt"/>
<line x1="918.9" y1="535.5" x2="924.9" y2="535.5" stroke="#000" stroke-width="3" stroke-linecap="butt"/>
<line x1="918.9" y1="631.3" x2="924.9" y2="631.3" stroke="#000" stroke-width="3" stroke-linecap="butt"/>
<line x1="918.9" y1="727.1" x2="924.9" y2="727.1" stroke="#000" stroke-width="3" stroke-linecap="butt"/>
<line x1="918.9" y1="822.9" x2="924.9" y2="822.9" stroke="#000" stroke-width="3" stroke-linecap="butt"/>
<text transform="translate(915.1 543.9) scale(1 1.05)" font-size="22.5" text-anchor="end" fill="#000">60</text>
<text transform="translate(915.1 639.6999999999999) scale(1 1.05)" font-size="22.5" text-anchor="end" fill="#000">40</text>
<text transform="translate(915.1 735.5) scale(1 1.05)" font-size="22.5" text-anchor="end" fill="#000">20</text>
<text transform="translate(915.1 831.3) scale(1 1.05)" font-size="22.5" text-anchor="end" fill="#000">0</text>
<line x1="921.9" y1="822.9" x2="1116.2" y2="822.9" stroke="#000" stroke-width="3" stroke-linecap="butt"/>
<line x1="969.7" y1="822.9" x2="969.7" y2="828.9" stroke="#000" stroke-width="3" stroke-linecap="butt"/>
<line x1="1071.8" y1="822.9" x2="1071.8" y2="828.9" stroke="#000" stroke-width="3" stroke-linecap="butt"/>
<text transform="translate(969.7 861.9) scale(1 1.14)" font-size="22.5" text-anchor="middle" fill="#000">TCF1<tspan font-size="17" dy="-6">+</tspan></text>
<text transform="translate(969.7 892.5) scale(1 1.14)" font-size="22.5" text-anchor="middle" fill="#000">PD1<tspan font-size="17.5" dy="-6.5">int</tspan></text>
<text transform="translate(1071.8 861.9) scale(1 1.14)" font-size="22.5" text-anchor="middle" fill="#000">TCF1<tspan font-size="17" dy="-6">-</tspan></text>
<text transform="translate(1071.8 892.5) scale(1 1.14)" font-size="22.5" text-anchor="middle" fill="#000">PD1<tspan font-size="17.5" dy="-6.5">hi</tspan></text>
<text transform="translate(868 678.8) rotate(-90) scale(1 1.05)" font-size="23.0" text-anchor="middle" fill="#000">% in CD3<tspan font-size="16" dy="-9">+</tspan><tspan dy="9">CD8</tspan><tspan font-size="16" dy="-9">+</tspan><tspan dy="9"> TILs</tspan></text>
<polyline points="950.6,737.1 950.6,699.7 989.2,699.7 989.2,716.6" fill="none" stroke="#000" stroke-width="1.5" stroke-linejoin="miter"/>
<polyline points="1052.7,537.4 1052.7,524.8 1091.3,524.8 1091.3,602.0" fill="none" stroke="#000" stroke-width="1.5" stroke-linejoin="miter"/>
<text transform="translate(975 695.7) scale(1 1.05)" font-size="23.2" text-anchor="middle" fill="#000">p=0.047</text>
<text transform="translate(1066 520.4) scale(1 1.05)" font-size="23.2" text-anchor="middle" fill="#000">p=0.59</text>
<circle cx="943.6" cy="755.2" r="7.4" fill="#000"/>
<circle cx="957.9" cy="750.4" r="7.4" fill="#000"/>
<circle cx="950.6" cy="766.1" r="7.4" fill="#000"/>
<circle cx="950.6" cy="779.3" r="7.4" fill="#000"/>
<circle cx="943.6" cy="789.0" r="7.4" fill="#000"/>
<circle cx="957.9" cy="787.8" r="7.4" fill="#000"/>
<circle cx="989.2" cy="729.9" r="7.4" fill="#e0362c"/>
<circle cx="982.0" cy="737.1" r="7.4" fill="#e0362c"/>
<circle cx="989.2" cy="745.6" r="7.4" fill="#e0362c"/>
<circle cx="982.0" cy="763.7" r="7.4" fill="#e0362c"/>
<circle cx="996.5" cy="763.7" r="7.4" fill="#e0362c"/>
<circle cx="989.2" cy="763.7" r="7.4" fill="#e0362c"/>
<circle cx="1052.7" cy="550.9" r="7.4" fill="#000"/>
<circle cx="1052.7" cy="612.2" r="7.4" fill="#000"/>
<circle cx="1052.7" cy="651.5" r="7.4" fill="#000"/>
<circle cx="1045.5" cy="692.5" r="7.4" fill="#000"/>
<circle cx="1059.4" cy="692.5" r="7.4" fill="#000"/>
<circle cx="1052.7" cy="716.6" r="7.4" fill="#000"/>
<circle cx="1091.3" cy="627.4" r="7.4" fill="#e0362c"/>
<circle cx="1084.0" cy="639.9" r="7.4" fill="#e0362c"/>
<circle cx="1098.5" cy="645.0" r="7.4" fill="#e0362c"/>
<circle cx="1091.3" cy="678.0" r="7.4" fill="#e0362c"/>
<circle cx="1091.3" cy="694.9" r="7.4" fill="#e0362c"/>
<circle cx="1091.3" cy="727.0" r="7.4" fill="#e0362c"/>
<line x1="937.7" y1="772.1" x2="963.5" y2="772.1" stroke="#000" stroke-width="2.8" stroke-linecap="butt"/>
<line x1="950.6" y1="766" x2="950.6" y2="778" stroke="#000" stroke-width="2.8" stroke-linecap="butt"/>
<line x1="943.4" y1="766" x2="957.8000000000001" y2="766" stroke="#000" stroke-width="2.8" stroke-linecap="butt"/>
<line x1="943.4" y1="778" x2="957.8000000000001" y2="778" stroke="#000" stroke-width="2.8" stroke-linecap="butt"/>
<line x1="976.3000000000001" y1="750.9" x2="1002.1" y2="750.9" stroke="#e0362c" stroke-width="2.8" stroke-linecap="butt"/>
<line x1="989.2" y1="745.5" x2="989.2" y2="756.5" stroke="#e0362c" stroke-width="2.8" stroke-linecap="butt"/>
<line x1="982.0" y1="745.5" x2="996.4000000000001" y2="745.5" stroke="#e0362c" stroke-width="2.8" stroke-linecap="butt"/>
<line x1="982.0" y1="756.5" x2="996.4000000000001" y2="756.5" stroke="#e0362c" stroke-width="2.8" stroke-linecap="butt"/>
<line x1="1039.8" y1="652.2" x2="1065.6000000000001" y2="652.2" stroke="#000" stroke-width="2.8" stroke-linecap="butt"/>
<line x1="1052.7" y1="627.4" x2="1052.7" y2="678" stroke="#000" stroke-width="2.8" stroke-linecap="butt"/>
<line x1="1045.5" y1="627.4" x2="1059.9" y2="627.4" stroke="#000" stroke-width="2.8" stroke-linecap="butt"/>
<line x1="1045.5" y1="678" x2="1059.9" y2="678" stroke="#000" stroke-width="2.8" stroke-linecap="butt"/>
<line x1="1078.3999999999999" y1="668.4" x2="1104.2" y2="668.4" stroke="#e0362c" stroke-width="2.8" stroke-linecap="butt"/>
<line x1="1091.3" y1="652.7" x2="1091.3" y2="684.8" stroke="#e0362c" stroke-width="2.8" stroke-linecap="butt"/>
<line x1="1084.1" y1="652.7" x2="1098.5" y2="652.7" stroke="#e0362c" stroke-width="2.8" stroke-linecap="butt"/>
<line x1="1084.1" y1="684.8" x2="1098.5" y2="684.8" stroke="#e0362c" stroke-width="2.8" stroke-linecap="butt"/>
<circle cx="1166.7" cy="550.6" r="7.3" fill="#000"/>
<circle cx="1166.7" cy="585.1" r="7.3" fill="#e0362c"/>
<text transform="translate(1199 558.8) scale(1 1.05)" font-size="23" text-anchor="start" fill="#000">Vehicle + Isotype</text>
<text transform="translate(1199 592.9) scale(1 1.05)" font-size="23" text-anchor="start" fill="#000">GSK + Isotype</text>
<line x1="1514.8" y1="530.8" x2="1514.8" y2="824.8" stroke="#000" stroke-width="3" stroke-linecap="butt"/>
<line x1="1508.8" y1="532.3" x2="1514.8" y2="532.3" stroke="#000" stroke-width="3" stroke-linecap="butt"/>
<line x1="1508.8" y1="605.05" x2="1514.8" y2="605.05" stroke="#000" stroke-width="3" stroke-linecap="butt"/>
<line x1="1508.8" y1="677.8" x2="1514.8" y2="677.8" stroke="#000" stroke-width="3" stroke-linecap="butt"/>
<line x1="1508.8" y1="750.55" x2="1514.8" y2="750.55" stroke="#000" stroke-width="3" stroke-linecap="butt"/>
<line x1="1508.8" y1="823.3" x2="1514.8" y2="823.3" stroke="#000" stroke-width="3" stroke-linecap="butt"/>
<text transform="translate(1502.8999999999999 540.6999999999999) scale(1 1.05)" font-size="22.5" text-anchor="end" fill="#000">40</text>
<text transform="translate(1502.8999999999999 613.4499999999999) scale(1 1.05)" font-size="22.5" text-anchor="end" fill="#000">30</text>
<text transform="translate(1502.8999999999999 686.1999999999999) scale(1 1.05)" font-size="22.5" text-anchor="end" fill="#000">20</text>
<text transform="translate(1502.8999999999999 758.9499999999999) scale(1 1.05)" font-size="22.5" text-anchor="end" fill="#000">10</text>
<text transform="translate(1502.8999999999999 831.6999999999999) scale(1 1.05)" font-size="22.5" text-anchor="end" fill="#000">0</text>
<line x1="1508.3" y1="823.3" x2="1707.7" y2="823.3" stroke="#000" stroke-width="3" stroke-linecap="butt"/>
<line x1="1544.5" y1="823.3" x2="1544.5" y2="829.3" stroke="#000" stroke-width="3" stroke-linecap="butt"/>
<line x1="1589.1" y1="823.3" x2="1589.1" y2="829.3" stroke="#000" stroke-width="3" stroke-linecap="butt"/>
<line x1="1634" y1="823.3" x2="1634" y2="829.3" stroke="#000" stroke-width="3" stroke-linecap="butt"/>
<line x1="1678.6" y1="823.3" x2="1678.6" y2="829.3" stroke="#000" stroke-width="3" stroke-linecap="butt"/>
<text transform="translate(1457 674) rotate(-90) scale(1 1.05)" font-size="22.9" text-anchor="middle" fill="#000">%GzmB<tspan font-size="16" dy="-9">+</tspan><tspan dy="9"> in CD3</tspan><tspan font-size="16" dy="-9">+</tspan><tspan dy="9">CD8</tspan><tspan font-size="16" dy="-9">+</tspan><tspan dy="9"> TILs</tspan></text>
<polyline points="1544.7,603.7 1544.7,545.7 1633.9,545.7 1633.9,552.1" fill="none" stroke="#000" stroke-width="1.5" stroke-linejoin="miter"/>
<polyline points="1633.9,541.1 1633.9,534.0 1678.4,534.0 1678.4,568.3" fill="none" stroke="#000" stroke-width="1.5" stroke-linejoin="miter"/>
<polyline points="1544.7,666.4 1544.7,636.1 1589.2,636.1 1589.2,686.6" fill="none" stroke="#000" stroke-width="1.5" stroke-linejoin="miter"/>
<polyline points="1589.2,785.8 1589.2,793.8 1678.4,793.8 1678.4,746.3" fill="none" stroke="#000" stroke-width="1.5" stroke-linejoin="miter"/>
<text transform="translate(1652.5 511.6) scale(1 1.05)" font-size="23.5" text-anchor="middle" fill="#000">p=0.55</text>
<text transform="translate(1578.5 540.1) scale(1 1.05)" font-size="23.5" text-anchor="middle" fill="#000">p=0.0020</text>
<text transform="translate(1568.5 629.6) scale(1 1.05)" font-size="23.5" text-anchor="middle" fill="#000">p=0.42</text>
<text transform="translate(1633.3 814.1) scale(1 1.05)" font-size="23.5" text-anchor="middle" fill="#000">p=0.0012</text>
<circle cx="1544.7" cy="683.6" r="7.4" fill="#000"/>
<circle cx="1544.7" cy="696.1" r="7.4" fill="#000"/>
<circle cx="1554.0" cy="742.3" r="7.4" fill="#000"/>
<circle cx="1542.2" cy="748.3" r="7.4" fill="#000"/>
<circle cx="1535.8" cy="758.8" r="7.4" fill="#000"/>
<circle cx="1553.4" cy="757.4" r="7.4" fill="#000"/>
<circle cx="1589.2" cy="709.9" r="7.4" fill="#e0362c"/>
<circle cx="1580.3" cy="730.1" r="7.4" fill="#e0362c"/>
<circle cx="1598.5" cy="737.2" r="7.4" fill="#e0362c"/>
<circle cx="1580.3" cy="758.4" r="7.4" fill="#e0362c"/>
<circle cx="1598.5" cy="760.5" r="7.4" fill="#e0362c"/>
<circle cx="1589.2" cy="774.6" r="7.4" fill="#e0362c"/>
<circle cx="1633.9" cy="564.3" r="5.9" fill="none" stroke="#000" stroke-width="3.0"/>
<circle cx="1633.9" cy="591.6" r="5.9" fill="none" stroke="#000" stroke-width="3.0"/>
<circle cx="1633.9" cy="646.2" r="5.9" fill="none" stroke="#000" stroke-width="3.0"/>
<circle cx="1624.8" cy="658.3" r="5.9" fill="none" stroke="#000" stroke-width="3.0"/>
<circle cx="1643.0" cy="666.4" r="5.9" fill="none" stroke="#000" stroke-width="3.0"/>
<circle cx="1633.9" cy="682.6" r="5.9" fill="none" stroke="#000" stroke-width="3.0"/>
<circle cx="1678.4" cy="590.6" r="5.9" fill="none" stroke="#e0362c" stroke-width="3.0"/>
<circle cx="1678.4" cy="601.7" r="5.9" fill="none" stroke="#e0362c" stroke-width="3.0"/>
<circle cx="1678.4" cy="628.0" r="5.9" fill="none" stroke="#e0362c" stroke-width="3.0"/>
<circle cx="1678.4" cy="645.2" r="5.9" fill="none" stroke="#e0362c" stroke-width="3.0"/>
<circle cx="1678.4" cy="672.5" r="5.9" fill="none" stroke="#e0362c" stroke-width="3.0"/>
<circle cx="1678.4" cy="701.8" r="5.9" fill="none" stroke="#e0362c" stroke-width="3.0"/>
<circle cx="1678.4" cy="718.0" r="5.9" fill="none" stroke="#e0362c" stroke-width="3.0"/>
<line x1="1529.8" y1="730.7" x2="1559.6000000000001" y2="730.7" stroke="#000" stroke-width="2.8" stroke-linecap="butt"/>
<line x1="1544.7" y1="718" x2="1544.7" y2="743.3" stroke="#000" stroke-width="2.8" stroke-linecap="butt"/>
<line x1="1536.4" y1="718" x2="1553.0" y2="718" stroke="#000" stroke-width="2.8" stroke-linecap="butt"/>
<line x1="1536.4" y1="743.3" x2="1553.0" y2="743.3" stroke="#000" stroke-width="2.8" stroke-linecap="butt"/>
<line x1="1574.3" y1="745.3" x2="1604.1000000000001" y2="745.3" stroke="#e0362c" stroke-width="2.8" stroke-linecap="butt"/>
<line x1="1589.2" y1="735.2" x2="1589.2" y2="755.4" stroke="#e0362c" stroke-width="2.8" stroke-linecap="butt"/>
<line x1="1580.9" y1="735.2" x2="1597.5" y2="735.2" stroke="#e0362c" stroke-width="2.8" stroke-linecap="butt"/>
<line x1="1580.9" y1="755.4" x2="1597.5" y2="755.4" stroke="#e0362c" stroke-width="2.8" stroke-linecap="butt"/>
<line x1="1619.2" y1="634.5" x2="1648.6000000000001" y2="634.5" stroke="#000" stroke-width="2.8" stroke-linecap="butt"/>
<line x1="1633.9" y1="615.8" x2="1633.9" y2="653.3" stroke="#000" stroke-width="2.8" stroke-linecap="butt"/>
<line x1="1625.6000000000001" y1="615.8" x2="1642.2" y2="615.8" stroke="#000" stroke-width="2.8" stroke-linecap="butt"/>
<line x1="1625.6000000000001" y1="653.3" x2="1642.2" y2="653.3" stroke="#000" stroke-width="2.8" stroke-linecap="butt"/>
<line x1="1663.7" y1="650.8" x2="1693.1000000000001" y2="650.8" stroke="#e0362c" stroke-width="2.8" stroke-linecap="butt"/>
<line x1="1678.4" y1="632.6" x2="1678.4" y2="668.8" stroke="#e0362c" stroke-width="2.8" stroke-linecap="butt"/>
<line x1="1670.1000000000001" y1="632.6" x2="1686.7" y2="632.6" stroke="#e0362c" stroke-width="2.8" stroke-linecap="butt"/>
<line x1="1670.1000000000001" y1="668.8" x2="1686.7" y2="668.8" stroke="#e0362c" stroke-width="2.8" stroke-linecap="butt"/>
<circle cx="1766.0" cy="547.6" r="7.3" fill="#000"/>
<text transform="translate(1799.6 555.7) scale(1 1.05)" font-size="23.3" text-anchor="start" fill="#000">Vehicle + Isotype</text>
<circle cx="1766.0" cy="582.6" r="7.3" fill="#e0362c"/>
<text transform="translate(1799.6 590.7) scale(1 1.05)" font-size="23.3" text-anchor="start" fill="#000">GSK + Isotype</text>
<circle cx="1766.0" cy="617.5" r="6.1" fill="none" stroke="#000" stroke-width="2.4"/>
<text transform="translate(1799.6 625.6) scale(1 1.05)" font-size="23.3" text-anchor="start" fill="#000">Vehicle + anti-PD-1</text>
<circle cx="1766.0" cy="652.1" r="6.1" fill="none" stroke="#e0362c" stroke-width="2.4"/>
<text transform="translate(1799.6 660.2) scale(1 1.05)" font-size="23.3" text-anchor="start" fill="#000">GSK + anti-PD-1</text>
<line x1="91.5" y1="957.8" x2="91.5" y2="1252.9" stroke="#000" stroke-width="3" stroke-linecap="butt"/>
<line x1="86.5" y1="959.3000000000001" x2="91.5" y2="959.3000000000001" stroke="#000" stroke-width="3" stroke-linecap="butt"/>
<line x1="86.5" y1="1032.325" x2="91.5" y2="1032.325" stroke="#000" stroke-width="3" stroke-linecap="butt"/>
<line x1="86.5" y1="1105.3500000000001" x2="91.5" y2="1105.3500000000001" stroke="#000" stroke-width="3" stroke-linecap="butt"/>
<line x1="86.5" y1="1178.375" x2="91.5" y2="1178.375" stroke="#000" stroke-width="3" stroke-linecap="butt"/>
<line x1="86.5" y1="1251.4" x2="91.5" y2="1251.4" stroke="#000" stroke-width="3" stroke-linecap="butt"/>
<text transform="translate(80.5 967.7) scale(1 1.05)" font-size="22.5" text-anchor="end" fill="#000">40</text>
<text transform="translate(80.5 1040.7250000000001) scale(1 1.05)" font-size="22.5" text-anchor="end" fill="#000">30</text>
<text transform="translate(80.5 1113.7500000000002) scale(1 1.05)" font-size="22.5" text-anchor="end" fill="#000">20</text>
<text transform="translate(80.5 1186.775) scale(1 1.05)" font-size="22.5" text-anchor="end" fill="#000">10</text>
<text transform="translate(80.5 1259.8000000000002) scale(1 1.05)" font-size="22.5" text-anchor="end" fill="#000">0</text>
<line x1="87.8" y1="1251.4" x2="383.9" y2="1251.4" stroke="#000" stroke-width="3" stroke-linecap="butt"/>
<line x1="161.6" y1="1251.4" x2="161.6" y2="1257.4" stroke="#000" stroke-width="3" stroke-linecap="butt"/>
<line x1="312.9" y1="1251.4" x2="312.9" y2="1257.4" stroke="#000" stroke-width="3" stroke-linecap="butt"/>
<text transform="translate(161.6 1284) scale(1 1.04)" font-size="24" text-anchor="middle" fill="#000">CD4</text>
<text transform="translate(312.9 1284) scale(1 1.04)" font-size="24" text-anchor="middle" fill="#000">CD8</text>
<text transform="translate(34 1104.5) rotate(-90) scale(1 1.05)" font-size="23.7" text-anchor="middle" fill="#000" xml:space="preserve">% in CD45<tspan font-size="16" dy="-9">+</tspan><tspan dy="9"> in  tumor</tspan></text>
<polyline points="113.2,1030.8 113.2,1005.1 178.2,1005.1 178.2,1025.3" fill="none" stroke="#000" stroke-width="1.5" stroke-linejoin="miter"/>
<polyline points="178.2,996.3 178.2,978.3 210.5,978.3 210.5,1057.0" fill="none" stroke="#000" stroke-width="1.5" stroke-linejoin="miter"/>
<polyline points="265.7,1137.6 265.7,1069.3 329.3,1069.3 329.3,1081.0" fill="none" stroke="#000" stroke-width="1.5" stroke-linejoin="miter"/>
<polyline points="329.3,1060.9 329.3,983.4 361.5,983.4 361.5,996.2" fill="none" stroke="#000" stroke-width="1.5" stroke-linejoin="miter"/>
<text transform="translate(186.8 972.7) scale(1 1.05)" font-size="23.7" text-anchor="middle" fill="#000">p=0.14</text>
<text transform="translate(135.3 999.0) scale(1 1.05)" font-size="23.7" text-anchor="middle" fill="#000">p=0.24</text>
<text transform="translate(329.6 977.7) scale(1 1.05)" font-size="23.7" text-anchor="middle" fill="#000">p=0.033</text>
<text transform="translate(287.3 1062.9) scale(1 1.05)" font-size="23.7" text-anchor="middle" fill="#000">p=0.19</text>
<circle cx="113.3" cy="1054.0" r="7.4" fill="#000"/>
<circle cx="113.3" cy="1093.4" r="7.4" fill="#000"/>
<circle cx="113.3" cy="1112.7" r="7.4" fill="#000"/>
<circle cx="107.9" cy="1124.7" r="7.4" fill="#000"/>
<circle cx="117.7" cy="1132.8" r="7.4" fill="#000"/>
<circle cx="118.6" cy="1151.5" r="7.4" fill="#000"/>
<circle cx="113.3" cy="1157.8" r="7.4" fill="#000"/>
<circle cx="113.3" cy="1201.0" r="7.4" fill="#000"/>
<circle cx="145.9" cy="1050.8" r="7.4" fill="#e0362c"/>
<circle cx="145.9" cy="1103.2" r="7.4" fill="#e0362c"/>
<circle cx="145.9" cy="1122.0" r="7.4" fill="#e0362c"/>
<circle cx="150.0" cy="1132.8" r="7.4" fill="#e0362c"/>
<circle cx="141.0" cy="1136.3" r="7.4" fill="#e0362c"/>
<circle cx="145.9" cy="1140.0" r="7.4" fill="#e0362c"/>
<circle cx="145.9" cy="1181.3" r="7.4" fill="#e0362c"/>
<circle cx="145.9" cy="1193.8" r="7.4" fill="#e0362c"/>
<circle cx="145.9" cy="1220.0" r="7.4" fill="#e0362c"/>
<circle cx="178.1" cy="1046.5" r="5.9" fill="none" stroke="#000" stroke-width="3.0"/>
<circle cx="178.1" cy="1066.9" r="5.9" fill="none" stroke="#000" stroke-width="3.0"/>
<circle cx="183.1" cy="1099.6" r="5.9" fill="none" stroke="#000" stroke-width="3.0"/>
<circle cx="172.7" cy="1104.1" r="5.9" fill="none" stroke="#000" stroke-width="3.0"/>
<circle cx="178.1" cy="1117.5" r="5.9" fill="none" stroke="#000" stroke-width="3.0"/>
<circle cx="178.1" cy="1174.8" r="5.9" fill="none" stroke="#000" stroke-width="3.0"/>
<circle cx="211.7" cy="1096.0" r="5.9" fill="none" stroke="#e0362c" stroke-width="3.0"/>
<circle cx="208.2" cy="1092.5" r="5.9" fill="none" stroke="#e0362c" stroke-width="3.0"/>
<circle cx="204.6" cy="1112.2" r="5.9" fill="none" stroke="#e0362c" stroke-width="3.0"/>
<circle cx="211.7" cy="1122.9" r="5.9" fill="none" stroke="#e0362c" stroke-width="3.0"/>
<circle cx="215.3" cy="1136.3" r="5.9" fill="none" stroke="#e0362c" stroke-width="3.0"/>
<circle cx="204.6" cy="1144.4" r="5.9" fill="none" stroke="#e0362c" stroke-width="3.0"/>
<circle cx="215.3" cy="1150.7" r="5.9" fill="none" stroke="#e0362c" stroke-width="3.0"/>
<circle cx="205.5" cy="1159.6" r="5.9" fill="none" stroke="#e0362c" stroke-width="3.0"/>
<line x1="102.6" y1="1143" x2="124.0" y2="1143" stroke="#000" stroke-width="2.8" stroke-linecap="butt"/>
<line x1="113.3" y1="1135" x2="113.3" y2="1151" stroke="#000" stroke-width="2.8" stroke-linecap="butt"/>
<line x1="106.5" y1="1135" x2="120.1" y2="1135" stroke="#000" stroke-width="2.8" stroke-linecap="butt"/>
<line x1="106.5" y1="1151" x2="120.1" y2="1151" stroke="#000" stroke-width="2.8" stroke-linecap="butt"/>
<line x1="135.20000000000002" y1="1141.7" x2="156.6" y2="1141.7" stroke="#e0362c" stroke-width="2.8" stroke-linecap="butt"/>
<line x1="145.9" y1="1126" x2="145.9" y2="1157" stroke="#e0362c" stroke-width="2.8" stroke-linecap="butt"/>
<line x1="139.1" y1="1126" x2="152.70000000000002" y2="1126" stroke="#e0362c" stroke-width="2.8" stroke-linecap="butt"/>
<line x1="139.1" y1="1157" x2="152.70000000000002" y2="1157" stroke="#e0362c" stroke-width="2.8" stroke-linecap="butt"/>
<line x1="167.4" y1="1103.2" x2="188.79999999999998" y2="1103.2" stroke="#000" stroke-width="2.8" stroke-linecap="butt"/>
<line x1="178.1" y1="1083.5" x2="178.1" y2="1123" stroke="#000" stroke-width="2.8" stroke-linecap="butt"/>
<line x1="171.29999999999998" y1="1083.5" x2="184.9" y2="1083.5" stroke="#000" stroke-width="2.8" stroke-linecap="butt"/>
<line x1="171.29999999999998" y1="1123" x2="184.9" y2="1123" stroke="#000" stroke-width="2.8" stroke-linecap="butt"/>
<line x1="199.3" y1="1129.2" x2="220.7" y2="1129.2" stroke="#e0362c" stroke-width="2.8" stroke-linecap="butt"/>
<line x1="210" y1="1121" x2="210" y2="1137" stroke="#e0362c" stroke-width="2.8" stroke-linecap="butt"/>
<line x1="203.2" y1="1121" x2="216.8" y2="1121" stroke="#e0362c" stroke-width="2.8" stroke-linecap="butt"/>
<line x1="203.2" y1="1137" x2="216.8" y2="1137" stroke="#e0362c" stroke-width="2.8" stroke-linecap="butt"/>
<circle cx="265.7" cy="1160.9" r="7.4" fill="#000"/>
<circle cx="264.5" cy="1170.3" r="7.4" fill="#000"/>
<circle cx="263.4" cy="1184.3" r="7.4" fill="#000"/>
<circle cx="268.0" cy="1192.0" r="7.4" fill="#000"/>
<circle cx="270.4" cy="1204.2" r="7.4" fill="#000"/>
<circle cx="259.9" cy="1205.3" r="7.4" fill="#000"/>
<circle cx="259.9" cy="1214.7" r="7.4" fill="#000"/>
<circle cx="268.0" cy="1211.2" r="7.4" fill="#000"/>
<circle cx="297.2" cy="1146.9" r="7.4" fill="#e0362c"/>
<circle cx="303.1" cy="1163.3" r="7.4" fill="#e0362c"/>
<circle cx="291.4" cy="1172.6" r="7.4" fill="#e0362c"/>
<circle cx="303.1" cy="1182.0" r="7.4" fill="#e0362c"/>
<circle cx="292.6" cy="1193.6" r="7.4" fill="#e0362c"/>
<circle cx="301.9" cy="1203.0" r="7.4" fill="#e0362c"/>
<circle cx="292.6" cy="1207.7" r="7.4" fill="#e0362c"/>
<circle cx="303.1" cy="1214.7" r="7.4" fill="#e0362c"/>
<circle cx="293.7" cy="1217.0" r="7.4" fill="#e0362c"/>
<circle cx="325.3" cy="1100.2" r="5.9" fill="none" stroke="#000" stroke-width="3.0"/>
<circle cx="330.0" cy="1109.5" r="5.9" fill="none" stroke="#000" stroke-width="3.0"/>
<circle cx="324.1" cy="1189.0" r="5.9" fill="none" stroke="#000" stroke-width="3.0"/>
<circle cx="335.8" cy="1198.3" r="5.9" fill="none" stroke="#000" stroke-width="3.0"/>
<circle cx="324.1" cy="1204.2" r="5.9" fill="none" stroke="#000" stroke-width="3.0"/>
<circle cx="361.5" cy="1007.9" r="5.9" fill="none" stroke="#e0362c" stroke-width="3.0"/>
<circle cx="361.5" cy="1041.8" r="5.9" fill="none" stroke="#e0362c" stroke-width="3.0"/>
<circle cx="367.3" cy="1095.0" r="5.9" fill="none" stroke="#e0362c" stroke-width="3.0"/>
<circle cx="356.8" cy="1102.5" r="5.9" fill="none" stroke="#e0362c" stroke-width="3.0"/>
<circle cx="361.5" cy="1104.0" r="5.9" fill="none" stroke="#e0362c" stroke-width="3.0"/>
<circle cx="356.8" cy="1125.4" r="5.9" fill="none" stroke="#e0362c" stroke-width="3.0"/>
<circle cx="367.3" cy="1129.4" r="5.9" fill="none" stroke="#e0362c" stroke-width="3.0"/>
<circle cx="361.5" cy="1186.2" r="5.9" fill="none" stroke="#e0362c" stroke-width="3.0"/>
<line x1="255.0" y1="1190.1" x2="276.4" y2="1190.1" stroke="#000" stroke-width="2.8" stroke-linecap="butt"/>
<line x1="265.7" y1="1183" x2="265.7" y2="1197" stroke="#000" stroke-width="2.8" stroke-linecap="butt"/>
<line x1="258.9" y1="1183" x2="272.5" y2="1183" stroke="#000" stroke-width="2.8" stroke-linecap="butt"/>
<line x1="258.9" y1="1197" x2="272.5" y2="1197" stroke="#000" stroke-width="2.8" stroke-linecap="butt"/>
<line x1="286.5" y1="1190.1" x2="307.9" y2="1190.1" stroke="#e0362c" stroke-width="2.8" stroke-linecap="butt"/>
<line x1="297.2" y1="1182" x2="297.2" y2="1198" stroke="#e0362c" stroke-width="2.8" stroke-linecap="butt"/>
<line x1="290.4" y1="1182" x2="304.0" y2="1182" stroke="#e0362c" stroke-width="2.8" stroke-linecap="butt"/>
<line x1="290.4" y1="1198" x2="304.0" y2="1198" stroke="#e0362c" stroke-width="2.8" stroke-linecap="butt"/>
<line x1="318.6" y1="1165.6" x2="340.0" y2="1165.6" stroke="#000" stroke-width="2.8" stroke-linecap="butt"/>
<line x1="329.3" y1="1146.9" x2="329.3" y2="1185.5" stroke="#000" stroke-width="2.8" stroke-linecap="butt"/>
<line x1="322.5" y1="1146.9" x2="336.1" y2="1146.9" stroke="#000" stroke-width="2.8" stroke-linecap="butt"/>
<line x1="322.5" y1="1185.5" x2="336.1" y2="1185.5" stroke="#000" stroke-width="2.8" stroke-linecap="butt"/>
<line x1="350.8" y1="1104.9" x2="372.2" y2="1104.9" stroke="#e0362c" stroke-width="2.8" stroke-linecap="butt"/>
<line x1="361.5" y1="1086.2" x2="361.5" y2="1120.7" stroke="#e0362c" stroke-width="2.8" stroke-linecap="butt"/>
<line x1="354.7" y1="1086.2" x2="368.3" y2="1086.2" stroke="#e0362c" stroke-width="2.8" stroke-linecap="butt"/>
<line x1="354.7" y1="1120.7" x2="368.3" y2="1120.7" stroke="#e0362c" stroke-width="2.8" stroke-linecap="butt"/>
<line x1="600.3" y1="953.9" x2="600.3" y2="1249.8" stroke="#000" stroke-width="3" stroke-linecap="butt"/>
<line x1="594.3" y1="955.4" x2="600.3" y2="955.4" stroke="#000" stroke-width="3" stroke-linecap="butt"/>
<line x1="594.3" y1="1028.625" x2="600.3" y2="1028.625" stroke="#000" stroke-width="3" stroke-linecap="butt"/>
<line x1="594.3" y1="1101.85" x2="600.3" y2="1101.85" stroke="#000" stroke-width="3" stroke-linecap="butt"/>
<line x1="594.3" y1="1175.075" x2="600.3" y2="1175.075" stroke="#000" stroke-width="3" stroke-linecap="butt"/>
<line x1="594.3" y1="1248.3" x2="600.3" y2="1248.3" stroke="#000" stroke-width="3" stroke-linecap="butt"/>
<text transform="translate(590.0999999999999 963.8) scale(1 1.05)" font-size="22.5" text-anchor="end" fill="#000">40,000</text>
<text transform="translate(590.0999999999999 1037.025) scale(1 1.05)" font-size="22.5" text-anchor="end" fill="#000">30,000</text>
<text transform="translate(590.0999999999999 1110.25) scale(1 1.05)" font-size="22.5" text-anchor="end" fill="#000">20,000</text>
<text transform="translate(590.0999999999999 1183.4750000000001) scale(1 1.05)" font-size="22.5" text-anchor="end" fill="#000">10,000</text>
<text transform="translate(590.0999999999999 1256.7) scale(1 1.05)" font-size="22.5" text-anchor="end" fill="#000">0</text>
<line x1="596.1" y1="1248.3" x2="893.2" y2="1248.3" stroke="#000" stroke-width="3" stroke-linecap="butt"/>
<line x1="670.7" y1="1248.3" x2="670.7" y2="1254.3" stroke="#000" stroke-width="3" stroke-linecap="butt"/>
<line x1="822.2" y1="1248.3" x2="822.2" y2="1254.3" stroke="#000" stroke-width="3" stroke-linecap="butt"/>
<text transform="translate(670.7 1280.7) scale(1 1.04)" font-size="24.2" text-anchor="middle" fill="#000">CD4</text>
<text transform="translate(822.2 1280.7) scale(1 1.04)" font-size="24.2" text-anchor="middle" fill="#000">CD8</text>
<text transform="translate(498.5 1101.2) rotate(-90) scale(1 1.05)" font-size="23.6" text-anchor="middle" fill="#000"># per gram of tumor</text>
<polyline points="621.9,1054.8 621.9,992.7 687.2,992.7 687.2,1040.2" fill="none" stroke="#000" stroke-width="1.5" stroke-linejoin="miter"/>
<polyline points="687.2,986.0 687.2,976.9 719.7,976.9 719.7,1027.7" fill="none" stroke="#000" stroke-width="1.5" stroke-linejoin="miter"/>
<polyline points="773.5,1160.7 773.5,1125.4 838.7,1125.4 838.7,1158.6" fill="none" stroke="#000" stroke-width="1.5" stroke-linejoin="miter"/>
<polyline points="838.7,1111.3 838.7,1018.9 871.2,1018.9 871.2,1039.9" fill="none" stroke="#000" stroke-width="1.5" stroke-linejoin="miter"/>
<text transform="translate(644.3 985.5) scale(1 1.05)" font-size="23.55" text-anchor="middle" fill="#000">p=0.98</text>
<text transform="translate(719.7 968.0) scale(1 1.05)" font-size="23.55" text-anchor="middle" fill="#000">p=0.27</text>
<text transform="translate(795.7 1120.4) scale(1 1.05)" font-size="23.55" text-anchor="middle" fill="#000">p=0.33</text>
<text transform="translate(842.4 1004.9) scale(1 1.05)" font-size="23.55" text-anchor="middle" fill="#000">p=0.014</text>
<circle cx="616.9" cy="1081.9" r="7.4" fill="#000"/>
<circle cx="622.6" cy="1088.3" r="7.4" fill="#000"/>
<circle cx="621.9" cy="1157.6" r="7.4" fill="#000"/>
<circle cx="616.9" cy="1170.0" r="7.4" fill="#000"/>
<circle cx="627.1" cy="1179.0" r="7.4" fill="#000"/>
<circle cx="622.6" cy="1192.6" r="7.4" fill="#000"/>
<circle cx="619.2" cy="1205.0" r="7.4" fill="#000"/>
<circle cx="654.6" cy="1019.4" r="7.4" fill="#e0362c"/>
<circle cx="647.5" cy="1170.0" r="7.4" fill="#e0362c"/>
<circle cx="661.5" cy="1170.0" r="7.4" fill="#e0362c"/>
<circle cx="654.6" cy="1176.0" r="7.4" fill="#e0362c"/>
<circle cx="648.0" cy="1190.3" r="7.4" fill="#e0362c"/>
<circle cx="661.0" cy="1188.0" r="7.4" fill="#e0362c"/>
<circle cx="651.9" cy="1209.5" r="7.4" fill="#e0362c"/>
<circle cx="659.8" cy="1203.9" r="7.4" fill="#e0362c"/>
<circle cx="687.2" cy="1066.1" r="5.9" fill="none" stroke="#000" stroke-width="3.0"/>
<circle cx="687.2" cy="1143.4" r="5.9" fill="none" stroke="#000" stroke-width="3.0"/>
<circle cx="681.3" cy="1163.2" r="5.9" fill="none" stroke="#000" stroke-width="3.0"/>
<circle cx="692.6" cy="1161.0" r="5.9" fill="none" stroke="#000" stroke-width="3.0"/>
<circle cx="682.4" cy="1203.9" r="5.9" fill="none" stroke="#000" stroke-width="3.0"/>
<circle cx="692.6" cy="1198.9" r="5.9" fill="none" stroke="#000" stroke-width="3.0"/>
<circle cx="714.0" cy="1058.2" r="5.9" fill="none" stroke="#e0362c" stroke-width="3.0"/>
<circle cx="724.2" cy="1058.2" r="5.9" fill="none" stroke="#e0362c" stroke-width="3.0"/>
<circle cx="719.7" cy="1115.8" r="5.9" fill="none" stroke="#e0362c" stroke-width="3.0"/>
<circle cx="719.7" cy="1161.0" r="5.9" fill="none" stroke="#e0362c" stroke-width="3.0"/>
<circle cx="719.7" cy="1193.7" r="5.9" fill="none" stroke="#e0362c" stroke-width="3.0"/>
<line x1="611.1999999999999" y1="1157.6" x2="632.6" y2="1157.6" stroke="#000" stroke-width="2.8" stroke-linecap="butt"/>
<line x1="621.9" y1="1140.6" x2="621.9" y2="1175" stroke="#000" stroke-width="2.8" stroke-linecap="butt"/>
<line x1="615.1" y1="1140.6" x2="628.6999999999999" y2="1140.6" stroke="#000" stroke-width="2.8" stroke-linecap="butt"/>
<line x1="615.1" y1="1175" x2="628.6999999999999" y2="1175" stroke="#000" stroke-width="2.8" stroke-linecap="butt"/>
<line x1="643.9" y1="1170.5" x2="665.3000000000001" y2="1170.5" stroke="#e0362c" stroke-width="2.8" stroke-linecap="butt"/>
<line x1="654.6" y1="1148.1" x2="654.6" y2="1192" stroke="#e0362c" stroke-width="2.8" stroke-linecap="butt"/>
<line x1="647.8000000000001" y1="1148.1" x2="661.4" y2="1148.1" stroke="#e0362c" stroke-width="2.8" stroke-linecap="butt"/>
<line x1="647.8000000000001" y1="1192" x2="661.4" y2="1192" stroke="#e0362c" stroke-width="2.8" stroke-linecap="butt"/>
<line x1="676.5" y1="1158.7" x2="697.9000000000001" y2="1158.7" stroke="#000" stroke-width="2.8" stroke-linecap="butt"/>
<line x1="687.2" y1="1135.7" x2="687.2" y2="1176.8" stroke="#000" stroke-width="2.8" stroke-linecap="butt"/>
<line x1="680.4000000000001" y1="1135.7" x2="694.0" y2="1135.7" stroke="#000" stroke-width="2.8" stroke-linecap="butt"/>
<line x1="680.4000000000001" y1="1176.8" x2="694.0" y2="1176.8" stroke="#000" stroke-width="2.8" stroke-linecap="butt"/>
<line x1="709.0" y1="1117.4" x2="730.4000000000001" y2="1117.4" stroke="#e0362c" stroke-width="2.8" stroke-linecap="butt"/>
<line x1="719.7" y1="1090.3" x2="719.7" y2="1145.2" stroke="#e0362c" stroke-width="2.8" stroke-linecap="butt"/>
<line x1="712.9000000000001" y1="1090.3" x2="726.5" y2="1090.3" stroke="#e0362c" stroke-width="2.8" stroke-linecap="butt"/>
<line x1="712.9000000000001" y1="1145.2" x2="726.5" y2="1145.2" stroke="#e0362c" stroke-width="2.8" stroke-linecap="butt"/>
<circle cx="773.5" cy="1184.8" r="7.4" fill="#000"/>
<circle cx="773.5" cy="1190.1" r="7.4" fill="#000"/>
<circle cx="773.5" cy="1206.9" r="7.4" fill="#000"/>
<circle cx="766.8" cy="1218.4" r="7.4" fill="#000"/>
<circle cx="779.4" cy="1223.7" r="7.4" fill="#000"/>
<circle cx="775.0" cy="1212.0" r="7.4" fill="#000"/>
<circle cx="806.3" cy="1161.7" r="7.4" fill="#e0362c"/>
<circle cx="806.3" cy="1192.2" r="7.4" fill="#e0362c"/>
<circle cx="806.3" cy="1200.0" r="7.4" fill="#e0362c"/>
<circle cx="801.5" cy="1211.1" r="7.4" fill="#e0362c"/>
<circle cx="800.4" cy="1221.6" r="7.4" fill="#e0362c"/>
<circle cx="813.0" cy="1223.7" r="7.4" fill="#e0362c"/>
<circle cx="810.0" cy="1215.0" r="7.4" fill="#e0362c"/>
<circle cx="834.0" cy="1175.4" r="5.9" fill="none" stroke="#000" stroke-width="3.0"/>
<circle cx="840.3" cy="1180.6" r="5.9" fill="none" stroke="#000" stroke-width="3.0"/>
<circle cx="833.0" cy="1199.5" r="5.9" fill="none" stroke="#000" stroke-width="3.0"/>
<circle cx="845.6" cy="1204.8" r="5.9" fill="none" stroke="#000" stroke-width="3.0"/>
<circle cx="838.2" cy="1212.1" r="5.9" fill="none" stroke="#000" stroke-width="3.0"/>
<circle cx="838.2" cy="1226.8" r="5.9" fill="none" stroke="#000" stroke-width="3.0"/>
<circle cx="871.2" cy="1053.5" r="5.9" fill="none" stroke="#e0362c" stroke-width="3.0"/>
<circle cx="871.2" cy="1066.1" r="5.9" fill="none" stroke="#e0362c" stroke-width="3.0"/>
<circle cx="866.6" cy="1142.8" r="5.9" fill="none" stroke="#e0362c" stroke-width="3.0"/>
<circle cx="876.1" cy="1154.4" r="5.9" fill="none" stroke="#e0362c" stroke-width="3.0"/>
<circle cx="871.2" cy="1194.3" r="5.9" fill="none" stroke="#e0362c" stroke-width="3.0"/>
<line x1="762.8" y1="1209" x2="784.2" y2="1209" stroke="#000" stroke-width="2.8" stroke-linecap="butt"/>
<line x1="773.5" y1="1204" x2="773.5" y2="1214" stroke="#000" stroke-width="2.8" stroke-linecap="butt"/>
<line x1="766.7" y1="1204" x2="780.3" y2="1204" stroke="#000" stroke-width="2.8" stroke-linecap="butt"/>
<line x1="766.7" y1="1214" x2="780.3" y2="1214" stroke="#000" stroke-width="2.8" stroke-linecap="butt"/>
<line x1="795.5999999999999" y1="1206.9" x2="817.0" y2="1206.9" stroke="#e0362c" stroke-width="2.8" stroke-linecap="butt"/>
<line x1="806.3" y1="1202" x2="806.3" y2="1212" stroke="#e0362c" stroke-width="2.8" stroke-linecap="butt"/>
<line x1="799.5" y1="1202" x2="813.0999999999999" y2="1202" stroke="#e0362c" stroke-width="2.8" stroke-linecap="butt"/>
<line x1="799.5" y1="1212" x2="813.0999999999999" y2="1212" stroke="#e0362c" stroke-width="2.8" stroke-linecap="butt"/>
<line x1="828.0" y1="1198.5" x2="849.4000000000001" y2="1198.5" stroke="#000" stroke-width="2.8" stroke-linecap="butt"/>
<line x1="838.7" y1="1193.2" x2="838.7" y2="1205" stroke="#000" stroke-width="2.8" stroke-linecap="butt"/>
<line x1="831.9000000000001" y1="1193.2" x2="845.5" y2="1193.2" stroke="#000" stroke-width="2.8" stroke-linecap="butt"/>
<line x1="831.9000000000001" y1="1205" x2="845.5" y2="1205" stroke="#000" stroke-width="2.8" stroke-linecap="butt"/>
<line x1="860.5" y1="1122.9" x2="881.9000000000001" y2="1122.9" stroke="#e0362c" stroke-width="2.8" stroke-linecap="butt"/>
<line x1="871.2" y1="1095.5" x2="871.2" y2="1150.2" stroke="#e0362c" stroke-width="2.8" stroke-linecap="butt"/>
<line x1="864.4000000000001" y1="1095.5" x2="878.0" y2="1095.5" stroke="#e0362c" stroke-width="2.8" stroke-linecap="butt"/>
<line x1="864.4000000000001" y1="1150.2" x2="878.0" y2="1150.2" stroke="#e0362c" stroke-width="2.8" stroke-linecap="butt"/>
<line x1="1082.3" y1="955.3" x2="1082.3" y2="1252.0" stroke="#000" stroke-width="3" stroke-linecap="butt"/>
<line x1="1076.3" y1="956.8" x2="1082.3" y2="956.8" stroke="#000" stroke-width="3" stroke-linecap="butt"/>
<line x1="1076.3" y1="1015.54" x2="1082.3" y2="1015.54" stroke="#000" stroke-width="3" stroke-linecap="butt"/>
<line x1="1076.3" y1="1074.28" x2="1082.3" y2="1074.28" stroke="#000" stroke-width="3" stroke-linecap="butt"/>
<line x1="1076.3" y1="1133.02" x2="1082.3" y2="1133.02" stroke="#000" stroke-width="3" stroke-linecap="butt"/>
<line x1="1076.3" y1="1191.76" x2="1082.3" y2="1191.76" stroke="#000" stroke-width="3" stroke-linecap="butt"/>
<line x1="1076.3" y1="1250.5" x2="1082.3" y2="1250.5" stroke="#000" stroke-width="3" stroke-linecap="butt"/>
<text transform="translate(1071.0 965.1999999999999) scale(1 1.05)" font-size="22.5" text-anchor="end" fill="#000">100</text>
<text transform="translate(1071.0 1023.9399999999999) scale(1 1.05)" font-size="22.5" text-anchor="end" fill="#000">80</text>
<text transform="translate(1071.0 1082.68) scale(1 1.05)" font-size="22.5" text-anchor="end" fill="#000">60</text>
<text transform="translate(1071.0 1141.42) scale(1 1.05)" font-size="22.5" text-anchor="end" fill="#000">40</text>
<text transform="translate(1071.0 1200.16) scale(1 1.05)" font-size="22.5" text-anchor="end" fill="#000">20</text>
<text transform="translate(1071.0 1258.9) scale(1 1.05)" font-size="22.5" text-anchor="end" fill="#000">0</text>
<line x1="1077.3" y1="1250.5" x2="1277.7" y2="1250.5" stroke="#000" stroke-width="3" stroke-linecap="butt"/>
<line x1="1112.1" y1="1250.5" x2="1112.1" y2="1256.5" stroke="#000" stroke-width="3" stroke-linecap="butt"/>
<line x1="1157.5" y1="1250.5" x2="1157.5" y2="1256.5" stroke="#000" stroke-width="3" stroke-linecap="butt"/>
<line x1="1202.5" y1="1250.5" x2="1202.5" y2="1256.5" stroke="#000" stroke-width="3" stroke-linecap="butt"/>
<line x1="1247.5" y1="1250.5" x2="1247.5" y2="1256.5" stroke="#000" stroke-width="3" stroke-linecap="butt"/>
<text transform="translate(1011 1103) rotate(-90) scale(1 1.05)" font-size="23.5" text-anchor="middle" fill="#000">%TCF1-TIM3<tspan font-size="16" dy="-9">+</tspan><tspan dy="9"> in CD8</tspan><tspan font-size="16" dy="-9">+</tspan><tspan dy="9"> TILs</tspan></text>
<polyline points="1202.5,1121.1 1202.5,986.9 1247.6,986.9 1247.6,1008.6" fill="none" stroke="#000" stroke-width="1.5" stroke-linejoin="miter"/>
<text transform="translate(1212.1 978.8) scale(1 1.05)" font-size="23.8" text-anchor="middle" fill="#000">p=0.0055</text>
<circle cx="1112.4" cy="1058.3" r="7.4" fill="#000"/>
<circle cx="1102.6" cy="1160.4" r="7.4" fill="#000"/>
<circle cx="1121.1" cy="1165.3" r="7.4" fill="#000"/>
<circle cx="1102.6" cy="1174.0" r="7.4" fill="#000"/>
<circle cx="1112.4" cy="1172.0" r="7.4" fill="#000"/>
<circle cx="1121.1" cy="1183.8" r="7.4" fill="#000"/>
<circle cx="1102.6" cy="1189.6" r="7.4" fill="#000"/>
<circle cx="1115.3" cy="1186.7" r="7.4" fill="#000"/>
<circle cx="1157.1" cy="1099.1" r="7.4" fill="#e0362c"/>
<circle cx="1157.1" cy="1120.5" r="7.4" fill="#e0362c"/>
<circle cx="1157.1" cy="1136.7" r="7.4" fill="#e0362c"/>
<circle cx="1162.0" cy="1154.6" r="7.4" fill="#e0362c"/>
<circle cx="1152.3" cy="1157.5" r="7.4" fill="#e0362c"/>
<circle cx="1166.9" cy="1172.1" r="7.4" fill="#e0362c"/>
<circle cx="1148.4" cy="1183.8" r="7.4" fill="#e0362c"/>
<circle cx="1157.1" cy="1185.7" r="7.4" fill="#e0362c"/>
<circle cx="1166.9" cy="1190.6" r="7.4" fill="#e0362c"/>
<circle cx="1148.4" cy="1198.4" r="7.4" fill="#e0362c"/>
<circle cx="1193.1" cy="1147.8" r="5.9" fill="none" stroke="#000" stroke-width="3.0"/>
<circle cx="1211.6" cy="1147.8" r="5.9" fill="none" stroke="#000" stroke-width="3.0"/>
<circle cx="1202.5" cy="1158.5" r="5.9" fill="none" stroke="#000" stroke-width="3.0"/>
<circle cx="1202.5" cy="1172.1" r="5.9" fill="none" stroke="#000" stroke-width="3.0"/>
<circle cx="1211.6" cy="1177.0" r="5.9" fill="none" stroke="#000" stroke-width="3.0"/>
<circle cx="1193.1" cy="1187.7" r="5.9" fill="none" stroke="#000" stroke-width="3.0"/>
<circle cx="1257.0" cy="1022.3" r="5.9" fill="none" stroke="#e0362c" stroke-width="3.0"/>
<circle cx="1238.3" cy="1031.6" r="5.9" fill="none" stroke="#e0362c" stroke-width="3.0"/>
<circle cx="1257.0" cy="1062.2" r="5.9" fill="none" stroke="#e0362c" stroke-width="3.0"/>
<circle cx="1238.3" cy="1072.5" r="5.9" fill="none" stroke="#e0362c" stroke-width="3.0"/>
<circle cx="1257.0" cy="1082.2" r="5.9" fill="none" stroke="#e0362c" stroke-width="3.0"/>
<circle cx="1247.6" cy="1104.0" r="5.9" fill="none" stroke="#e0362c" stroke-width="3.0"/>
<circle cx="1238.3" cy="1143.9" r="5.9" fill="none" stroke="#e0362c" stroke-width="3.0"/>
<circle cx="1257.0" cy="1150.3" r="5.9" fill="none" stroke="#e0362c" stroke-width="3.0"/>
<circle cx="1238.3" cy="1161.4" r="5.9" fill="none" stroke="#e0362c" stroke-width="3.0"/>
<line x1="1097.4" y1="1166.3" x2="1127.4" y2="1166.3" stroke="#000" stroke-width="2.8" stroke-linecap="butt"/>
<line x1="1112.4" y1="1149.1" x2="1112.4" y2="1183.5" stroke="#000" stroke-width="2.8" stroke-linecap="butt"/>
<line x1="1103.8000000000002" y1="1149.1" x2="1121.0" y2="1149.1" stroke="#000" stroke-width="2.8" stroke-linecap="butt"/>
<line x1="1103.8000000000002" y1="1183.5" x2="1121.0" y2="1183.5" stroke="#000" stroke-width="2.8" stroke-linecap="butt"/>
<line x1="1142.1" y1="1159.5" x2="1172.1" y2="1159.5" stroke="#e0362c" stroke-width="2.8" stroke-linecap="butt"/>
<line x1="1157.1" y1="1149" x2="1157.1" y2="1170.2" stroke="#e0362c" stroke-width="2.8" stroke-linecap="butt"/>
<line x1="1148.5" y1="1149" x2="1165.6999999999998" y2="1149" stroke="#e0362c" stroke-width="2.8" stroke-linecap="butt"/>
<line x1="1148.5" y1="1170.2" x2="1165.6999999999998" y2="1170.2" stroke="#e0362c" stroke-width="2.8" stroke-linecap="butt"/>
<line x1="1187.5" y1="1164.3" x2="1217.5" y2="1164.3" stroke="#000" stroke-width="2.8" stroke-linecap="butt"/>
<line x1="1202.5" y1="1157.5" x2="1202.5" y2="1171.3" stroke="#000" stroke-width="2.8" stroke-linecap="butt"/>
<line x1="1193.9" y1="1157.5" x2="1211.1" y2="1157.5" stroke="#000" stroke-width="2.8" stroke-linecap="butt"/>
<line x1="1193.9" y1="1171.3" x2="1211.1" y2="1171.3" stroke="#000" stroke-width="2.8" stroke-linecap="butt"/>
<line x1="1232.6" y1="1092.7" x2="1262.6" y2="1092.7" stroke="#e0362c" stroke-width="2.8" stroke-linecap="butt"/>
<line x1="1247.6" y1="1074.8" x2="1247.6" y2="1109.8" stroke="#e0362c" stroke-width="2.8" stroke-linecap="butt"/>
<line x1="1239.0" y1="1074.8" x2="1256.1999999999998" y2="1074.8" stroke="#e0362c" stroke-width="2.8" stroke-linecap="butt"/>
<line x1="1239.0" y1="1109.8" x2="1256.1999999999998" y2="1109.8" stroke="#e0362c" stroke-width="2.8" stroke-linecap="butt"/>
<line x1="1491.3" y1="958.9" x2="1491.3" y2="1249.2" stroke="#000" stroke-width="3" stroke-linecap="butt"/>
<line x1="1485.3" y1="960.4000000000001" x2="1491.3" y2="960.4000000000001" stroke="#000" stroke-width="3" stroke-linecap="butt"/>
<line x1="1485.3" y1="1032.225" x2="1491.3" y2="1032.225" stroke="#000" stroke-width="3" stroke-linecap="butt"/>
<line x1="1485.3" y1="1104.05" x2="1491.3" y2="1104.05" stroke="#000" stroke-width="3" stroke-linecap="butt"/>
<line x1="1485.3" y1="1175.875" x2="1491.3" y2="1175.875" stroke="#000" stroke-width="3" stroke-linecap="butt"/>
<line x1="1485.3" y1="1247.7" x2="1491.3" y2="1247.7" stroke="#000" stroke-width="3" stroke-linecap="butt"/>
<text transform="translate(1481.1 968.8000000000001) scale(1 1.05)" font-size="22.5" text-anchor="end" fill="#000">20,000</text>
<text transform="translate(1481.1 1040.625) scale(1 1.05)" font-size="22.5" text-anchor="end" fill="#000">15,000</text>
<text transform="translate(1481.1 1112.45) scale(1 1.05)" font-size="22.5" text-anchor="end" fill="#000">10,000</text>
<text transform="translate(1481.1 1184.275) scale(1 1.05)" font-size="22.5" text-anchor="end" fill="#000">5,000</text>
<text transform="translate(1481.1 1256.1000000000001) scale(1 1.05)" font-size="22.5" text-anchor="end" fill="#000">0</text>
<line x1="1485.7" y1="1247.7" x2="1681.9" y2="1247.7" stroke="#000" stroke-width="3" stroke-linecap="butt"/>
<line x1="1519.7" y1="1247.7" x2="1519.7" y2="1253.7" stroke="#000" stroke-width="3" stroke-linecap="butt"/>
<line x1="1563.9" y1="1247.7" x2="1563.9" y2="1253.7" stroke="#000" stroke-width="3" stroke-linecap="butt"/>
<line x1="1608.1" y1="1247.7" x2="1608.1" y2="1253.7" stroke="#000" stroke-width="3" stroke-linecap="butt"/>
<line x1="1652.3" y1="1247.7" x2="1652.3" y2="1253.7" stroke="#000" stroke-width="3" stroke-linecap="butt"/>
<text transform="translate(1362 1104.6) rotate(-90) scale(1 1.05)" font-size="23.4" text-anchor="middle" fill="#000">#TCF1<tspan font-size="16" dy="-9">-</tspan><tspan dy="9">TIM3</tspan><tspan font-size="16" dy="-9">+</tspan><tspan dy="9">CD8</tspan><tspan font-size="16" dy="-9">+</tspan><tspan dy="9"> TILs</tspan></text>
<text transform="translate(1390.5 1104) rotate(-90) scale(1 1.05)" font-size="23.2" text-anchor="middle" fill="#000">per gram of tumor</text>
<polyline points="1608.3,1126.2 1608.3,965.3 1652.5,965.3 1652.5,975.7" fill="none" stroke="#000" stroke-width="1.5" stroke-linejoin="miter"/>
<text transform="translate(1630 959.3) scale(1 1.05)" font-size="23.3" text-anchor="middle" fill="#000">p=0.018</text>
<circle cx="1520.3" cy="1134.8" r="7.4" fill="#000"/>
<circle cx="1520.3" cy="1194.4" r="7.4" fill="#000"/>
<circle cx="1520.3" cy="1205.0" r="7.4" fill="#000"/>
<circle cx="1510.7" cy="1220.9" r="7.4" fill="#000"/>
<circle cx="1528.8" cy="1219.7" r="7.4" fill="#000"/>
<circle cx="1523.9" cy="1230.6" r="7.4" fill="#000"/>
<circle cx="1516.7" cy="1236.6" r="7.4" fill="#000"/>
<circle cx="1564.4" cy="1181.1" r="7.4" fill="#e0362c"/>
<circle cx="1555.3" cy="1210.1" r="7.4" fill="#e0362c"/>
<circle cx="1572.2" cy="1217.3" r="7.4" fill="#e0362c"/>
<circle cx="1564.4" cy="1222.0" r="7.4" fill="#e0362c"/>
<circle cx="1555.3" cy="1236.6" r="7.4" fill="#e0362c"/>
<circle cx="1572.2" cy="1228.2" r="7.4" fill="#e0362c"/>
<circle cx="1564.0" cy="1212.0" r="7.4" fill="#e0362c"/>
<circle cx="1608.3" cy="1154.1" r="5.9" fill="none" stroke="#000" stroke-width="3.0"/>
<circle cx="1601.1" cy="1187.2" r="5.9" fill="none" stroke="#000" stroke-width="3.0"/>
<circle cx="1615.6" cy="1195.6" r="5.9" fill="none" stroke="#000" stroke-width="3.0"/>
<circle cx="1601.1" cy="1208.9" r="5.9" fill="none" stroke="#000" stroke-width="3.0"/>
<circle cx="1616.8" cy="1210.1" r="5.9" fill="none" stroke="#000" stroke-width="3.0"/>
<circle cx="1608.3" cy="1233.7" r="5.9" fill="none" stroke="#000" stroke-width="3.0"/>
<circle cx="1652.5" cy="987.7" r="5.9" fill="none" stroke="#e0362c" stroke-width="3.0"/>
<circle cx="1652.5" cy="1024.9" r="5.9" fill="none" stroke="#e0362c" stroke-width="3.0"/>
<circle cx="1652.5" cy="1096.3" r="5.9" fill="none" stroke="#e0362c" stroke-width="3.0"/>
<circle cx="1652.5" cy="1126.2" r="5.9" fill="none" stroke="#e0362c" stroke-width="3.0"/>
<circle cx="1652.5" cy="1213.7" r="5.9" fill="none" stroke="#e0362c" stroke-width="3.0"/>
<line x1="1505.7" y1="1208.9" x2="1534.8999999999999" y2="1208.9" stroke="#000" stroke-width="2.8" stroke-linecap="butt"/>
<line x1="1520.3" y1="1200.4" x2="1520.3" y2="1217" stroke="#000" stroke-width="2.8" stroke-linecap="butt"/>
<line x1="1511.8" y1="1200.4" x2="1528.8" y2="1200.4" stroke="#000" stroke-width="2.8" stroke-linecap="butt"/>
<line x1="1511.8" y1="1217" x2="1528.8" y2="1217" stroke="#000" stroke-width="2.8" stroke-linecap="butt"/>
<line x1="1549.8000000000002" y1="1218" x2="1579.0" y2="1218" stroke="#e0362c" stroke-width="2.8" stroke-linecap="butt"/>
<line x1="1564.4" y1="1212" x2="1564.4" y2="1224" stroke="#e0362c" stroke-width="2.8" stroke-linecap="butt"/>
<line x1="1555.9" y1="1212" x2="1572.9" y2="1212" stroke="#e0362c" stroke-width="2.8" stroke-linecap="butt"/>
<line x1="1555.9" y1="1224" x2="1572.9" y2="1224" stroke="#e0362c" stroke-width="2.8" stroke-linecap="butt"/>
<line x1="1593.7" y1="1198" x2="1622.8999999999999" y2="1198" stroke="#000" stroke-width="2.8" stroke-linecap="butt"/>
<line x1="1608.3" y1="1187.2" x2="1608.3" y2="1209" stroke="#000" stroke-width="2.8" stroke-linecap="butt"/>
<line x1="1599.8" y1="1187.2" x2="1616.8" y2="1187.2" stroke="#000" stroke-width="2.8" stroke-linecap="butt"/>
<line x1="1599.8" y1="1209" x2="1616.8" y2="1209" stroke="#000" stroke-width="2.8" stroke-linecap="butt"/>
<line x1="1637.9" y1="1090" x2="1667.1" y2="1090" stroke="#e0362c" stroke-width="2.8" stroke-linecap="butt"/>
<line x1="1652.5" y1="1050.4" x2="1652.5" y2="1129.3" stroke="#e0362c" stroke-width="2.8" stroke-linecap="butt"/>
<line x1="1644.0" y1="1050.4" x2="1661.0" y2="1050.4" stroke="#e0362c" stroke-width="2.8" stroke-linecap="butt"/>
<line x1="1644.0" y1="1129.3" x2="1661.0" y2="1129.3" stroke="#e0362c" stroke-width="2.8" stroke-linecap="butt"/>
<circle cx="1714.8" cy="975.5" r="7.1" fill="#000"/>
<text transform="translate(1747.9 983.8) scale(1 1.05)" font-size="23.1" text-anchor="start" fill="#000">Vehicle + Isotype</text>
<circle cx="1714.8" cy="1010.1" r="7.1" fill="#e0362c"/>
<text transform="translate(1747.9 1018.4) scale(1 1.05)" font-size="23.1" text-anchor="start" fill="#000">GSK + Isotype</text>
<circle cx="1714.8" cy="1044.2" r="5.8999999999999995" fill="none" stroke="#000" stroke-width="2.4"/>
<text transform="translate(1747.9 1052.5) scale(1 1.05)" font-size="23.1" text-anchor="start" fill="#000">Vehicle + anti-PD-1</text>
<circle cx="1714.8" cy="1078.7" r="5.8999999999999995" fill="none" stroke="#e0362c" stroke-width="2.4"/>
<text transform="translate(1747.9 1087.0) scale(1 1.05)" font-size="23.1" text-anchor="start" fill="#000">GSK + anti-PD-1</text>
</svg>
</body></html>
